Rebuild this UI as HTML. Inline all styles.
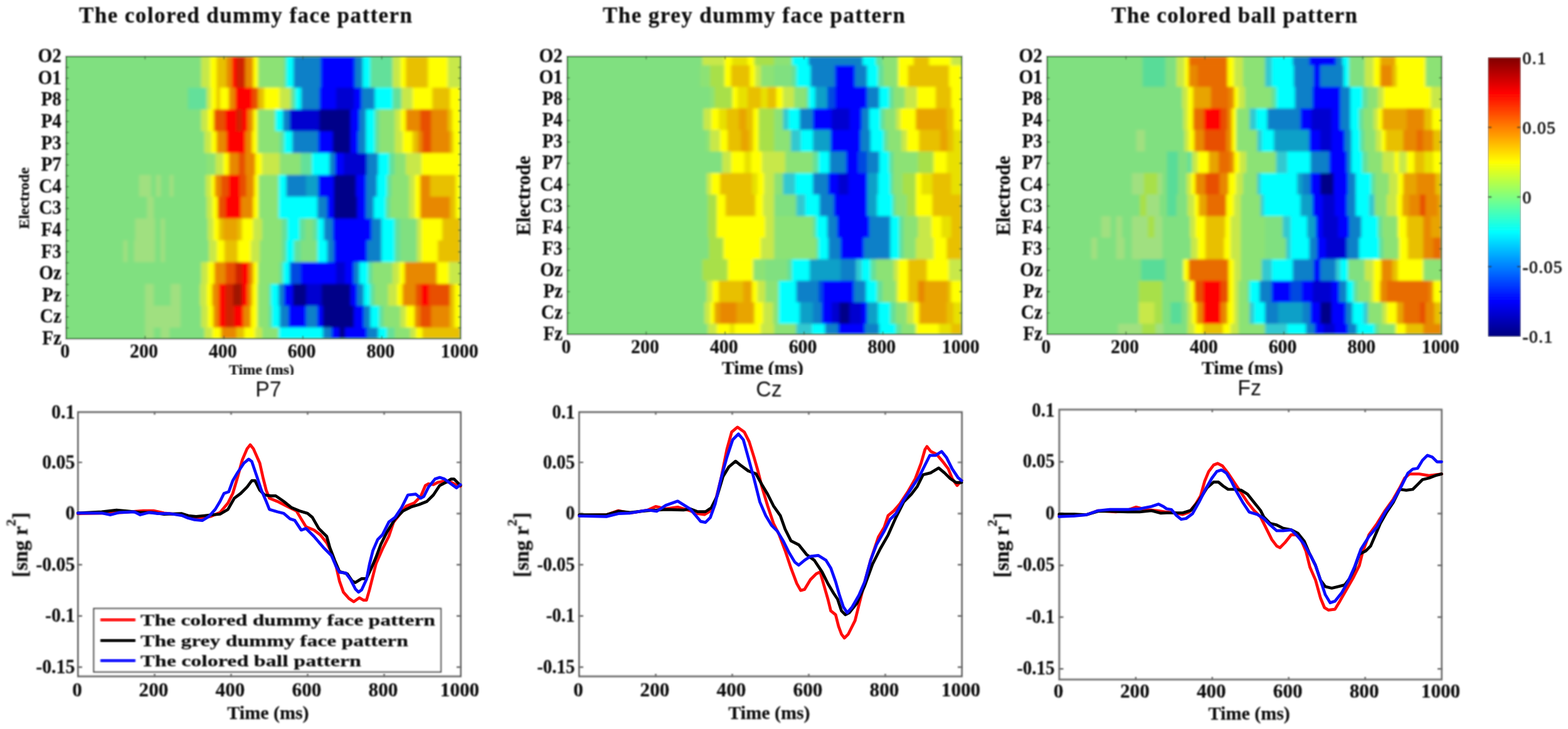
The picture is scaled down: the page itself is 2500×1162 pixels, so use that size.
<!DOCTYPE html>
<html lang="en"><head><meta charset="utf-8"><title>Discriminative patterns</title>
<style>html,body{margin:0;padding:0;background:#fff;}body{width:2500px;height:1162px;overflow:hidden;}svg{display:block;}text{font-family:"Liberation Serif", serif;font-weight:bold;fill:#111;stroke:#111;stroke-width:0.25px;stroke-linejoin:round;}.sans{font-family:"Liberation Sans", sans-serif;font-weight:normal;stroke:none;}.reg{font-weight:normal;stroke-width:0.85px;}</style></head><body>
<svg width="2500" height="1162" viewBox="0 0 2500 1162">
<defs>
<linearGradient id="jet" x1="0" y1="1" x2="0" y2="0">
<stop offset="0.0000" stop-color="rgb(0,0,128)"/>
<stop offset="0.0156" stop-color="rgb(0,0,143)"/>
<stop offset="0.0312" stop-color="rgb(0,0,159)"/>
<stop offset="0.0469" stop-color="rgb(0,0,175)"/>
<stop offset="0.0625" stop-color="rgb(0,0,191)"/>
<stop offset="0.0781" stop-color="rgb(0,0,207)"/>
<stop offset="0.0938" stop-color="rgb(0,0,223)"/>
<stop offset="0.1094" stop-color="rgb(0,0,239)"/>
<stop offset="0.1250" stop-color="rgb(0,0,255)"/>
<stop offset="0.1406" stop-color="rgb(0,16,255)"/>
<stop offset="0.1562" stop-color="rgb(0,32,255)"/>
<stop offset="0.1719" stop-color="rgb(0,48,255)"/>
<stop offset="0.1875" stop-color="rgb(0,64,255)"/>
<stop offset="0.2031" stop-color="rgb(0,80,255)"/>
<stop offset="0.2188" stop-color="rgb(0,96,255)"/>
<stop offset="0.2344" stop-color="rgb(0,112,255)"/>
<stop offset="0.2500" stop-color="rgb(0,128,255)"/>
<stop offset="0.2656" stop-color="rgb(0,143,255)"/>
<stop offset="0.2812" stop-color="rgb(0,159,255)"/>
<stop offset="0.2969" stop-color="rgb(0,175,255)"/>
<stop offset="0.3125" stop-color="rgb(0,191,255)"/>
<stop offset="0.3281" stop-color="rgb(0,207,255)"/>
<stop offset="0.3438" stop-color="rgb(0,223,255)"/>
<stop offset="0.3594" stop-color="rgb(0,239,255)"/>
<stop offset="0.3750" stop-color="rgb(0,255,255)"/>
<stop offset="0.3906" stop-color="rgb(16,255,239)"/>
<stop offset="0.4062" stop-color="rgb(32,255,223)"/>
<stop offset="0.4219" stop-color="rgb(48,255,207)"/>
<stop offset="0.4375" stop-color="rgb(64,255,191)"/>
<stop offset="0.4531" stop-color="rgb(80,255,175)"/>
<stop offset="0.4688" stop-color="rgb(96,255,159)"/>
<stop offset="0.4844" stop-color="rgb(112,255,143)"/>
<stop offset="0.5000" stop-color="rgb(128,255,128)"/>
<stop offset="0.5156" stop-color="rgb(143,255,112)"/>
<stop offset="0.5312" stop-color="rgb(159,255,96)"/>
<stop offset="0.5469" stop-color="rgb(175,255,80)"/>
<stop offset="0.5625" stop-color="rgb(191,255,64)"/>
<stop offset="0.5781" stop-color="rgb(207,255,48)"/>
<stop offset="0.5938" stop-color="rgb(223,255,32)"/>
<stop offset="0.6094" stop-color="rgb(239,255,16)"/>
<stop offset="0.6250" stop-color="rgb(255,255,0)"/>
<stop offset="0.6406" stop-color="rgb(255,239,0)"/>
<stop offset="0.6562" stop-color="rgb(255,223,0)"/>
<stop offset="0.6719" stop-color="rgb(255,207,0)"/>
<stop offset="0.6875" stop-color="rgb(255,191,0)"/>
<stop offset="0.7031" stop-color="rgb(255,175,0)"/>
<stop offset="0.7188" stop-color="rgb(255,159,0)"/>
<stop offset="0.7344" stop-color="rgb(255,143,0)"/>
<stop offset="0.7500" stop-color="rgb(255,128,0)"/>
<stop offset="0.7656" stop-color="rgb(255,112,0)"/>
<stop offset="0.7812" stop-color="rgb(255,96,0)"/>
<stop offset="0.7969" stop-color="rgb(255,80,0)"/>
<stop offset="0.8125" stop-color="rgb(255,64,0)"/>
<stop offset="0.8281" stop-color="rgb(255,48,0)"/>
<stop offset="0.8438" stop-color="rgb(255,32,0)"/>
<stop offset="0.8594" stop-color="rgb(255,16,0)"/>
<stop offset="0.8750" stop-color="rgb(255,0,0)"/>
<stop offset="0.8906" stop-color="rgb(239,0,0)"/>
<stop offset="0.9062" stop-color="rgb(223,0,0)"/>
<stop offset="0.9219" stop-color="rgb(207,0,0)"/>
<stop offset="0.9375" stop-color="rgb(191,0,0)"/>
<stop offset="0.9531" stop-color="rgb(175,0,0)"/>
<stop offset="0.9688" stop-color="rgb(159,0,0)"/>
<stop offset="0.9844" stop-color="rgb(143,0,0)"/>
<stop offset="1.0000" stop-color="rgb(128,0,0)"/>
</linearGradient>
<filter id="hb" x="-5%" y="-5%" width="110%" height="110%"><feGaussianBlur stdDeviation="2.8 2.2"/></filter>
<filter id="tb"><feGaussianBlur stdDeviation="0.9"/></filter>
<filter id="cb" x="-2%" y="-5%" width="104%" height="110%"><feGaussianBlur stdDeviation="0.7"/></filter>
</defs>
<rect width="2500" height="1162" fill="#fff"/>
<g>
<text x="126" y="36.2" font-size="35" textLength="531" lengthAdjust="spacing" filter="url(#tb)">The colored dummy face pattern</text>
<clipPath id="c_h1"><rect x="105.5" y="90" width="629" height="450"/></clipPath>
<rect x="105.5" y="90" width="629" height="450" fill="#80e080"/>
<g clip-path="url(#c_h1)"><g filter="url(#hb)">
<rect x="85.5" y="70" width="669" height="490" fill="#80e080"/>
<rect x="105.5" y="89.7" width="189.1" height="15.8" fill="#80e080"/><rect x="294.2" y="89.7" width="26.9" height="15.8" fill="#80e080"/><rect x="320.7" y="89.7" width="14.5" height="15.8" fill="#c8e848"/><rect x="334.8" y="89.7" width="11.0" height="15.8" fill="#ffff00"/><rect x="345.4" y="89.7" width="16.3" height="15.8" fill="#e8c000"/><rect x="361.2" y="89.7" width="9.2" height="15.8" fill="#e88800"/><rect x="370.0" y="89.7" width="7.5" height="15.8" fill="#ff0000"/><rect x="377.1" y="89.7" width="14.5" height="15.8" fill="#d02000"/><rect x="391.2" y="89.7" width="12.7" height="15.8" fill="#e88800"/><rect x="403.6" y="89.7" width="8.3" height="15.8" fill="#ffff00"/><rect x="411.5" y="89.7" width="41.9" height="15.8" fill="#8ce274"/><rect x="452.9" y="89.7" width="3.9" height="15.8" fill="#64e09a"/><rect x="456.5" y="89.7" width="11.9" height="15.8" fill="#00ffff"/><rect x="467.9" y="89.7" width="43.6" height="15.8" fill="#0880c8"/><rect x="511.2" y="89.7" width="55.1" height="15.8" fill="#0000ff"/><rect x="565.8" y="89.7" width="12.7" height="15.8" fill="#0880c8"/><rect x="578.2" y="89.7" width="12.7" height="15.8" fill="#00ffff"/><rect x="590.5" y="89.7" width="35.7" height="15.8" fill="#64e09a"/><rect x="625.8" y="89.7" width="12.7" height="15.8" fill="#c8e848"/><rect x="638.2" y="89.7" width="9.2" height="15.8" fill="#ffff00"/><rect x="647.0" y="89.7" width="35.7" height="15.8" fill="#e8c000"/><rect x="682.3" y="89.7" width="32.1" height="15.8" fill="#ffff00"/><rect x="714.0" y="89.7" width="20.9" height="15.8" fill="#c8e848"/><rect x="105.5" y="104.9" width="189.1" height="35.4" fill="#80e080"/><rect x="294.2" y="104.9" width="26.9" height="35.4" fill="#80e080"/><rect x="320.7" y="104.9" width="14.5" height="35.4" fill="#c8e848"/><rect x="334.8" y="104.9" width="11.0" height="35.4" fill="#ffff00"/><rect x="345.4" y="104.9" width="16.3" height="35.4" fill="#e8c000"/><rect x="361.2" y="104.9" width="9.2" height="35.4" fill="#e88800"/><rect x="370.0" y="104.9" width="7.5" height="35.4" fill="#ff0000"/><rect x="377.1" y="104.9" width="14.5" height="35.4" fill="#d02000"/><rect x="391.2" y="104.9" width="12.7" height="35.4" fill="#e88800"/><rect x="403.6" y="104.9" width="8.3" height="35.4" fill="#ffff00"/><rect x="411.5" y="104.9" width="41.9" height="35.4" fill="#8ce274"/><rect x="452.9" y="104.9" width="3.9" height="35.4" fill="#64e09a"/><rect x="456.5" y="104.9" width="11.9" height="35.4" fill="#00ffff"/><rect x="467.9" y="104.9" width="43.6" height="35.4" fill="#0880c8"/><rect x="511.2" y="104.9" width="55.1" height="35.4" fill="#0000ff"/><rect x="565.8" y="104.9" width="12.7" height="35.4" fill="#0880c8"/><rect x="578.2" y="104.9" width="12.7" height="35.4" fill="#00ffff"/><rect x="590.5" y="104.9" width="35.7" height="35.4" fill="#64e09a"/><rect x="625.8" y="104.9" width="12.7" height="35.4" fill="#c8e848"/><rect x="638.2" y="104.9" width="9.2" height="35.4" fill="#ffff00"/><rect x="647.0" y="104.9" width="35.7" height="35.4" fill="#e8c000"/><rect x="682.3" y="104.9" width="32.1" height="35.4" fill="#ffff00"/><rect x="714.0" y="104.9" width="20.9" height="35.4" fill="#c8e848"/><rect x="105.5" y="139.7" width="189.1" height="35.4" fill="#80e080"/><rect x="294.2" y="139.7" width="5.7" height="35.4" fill="#80e080"/><rect x="299.5" y="139.7" width="30.4" height="35.4" fill="#64e09a"/><rect x="329.5" y="139.7" width="7.5" height="35.4" fill="#c8e848"/><rect x="336.5" y="139.7" width="9.2" height="35.4" fill="#ffff00"/><rect x="345.4" y="139.7" width="5.7" height="35.4" fill="#e8c000"/><rect x="350.6" y="139.7" width="14.5" height="35.4" fill="#ffff00"/><rect x="364.8" y="139.7" width="11.0" height="35.4" fill="#e88800"/><rect x="375.3" y="139.7" width="26.9" height="35.4" fill="#ff0000"/><rect x="401.8" y="139.7" width="10.1" height="35.4" fill="#e85000"/><rect x="411.5" y="139.7" width="10.1" height="35.4" fill="#e8c000"/><rect x="421.2" y="139.7" width="25.1" height="35.4" fill="#ffff00"/><rect x="445.9" y="139.7" width="18.0" height="35.4" fill="#c8e848"/><rect x="463.5" y="139.7" width="7.5" height="35.4" fill="#64e09a"/><rect x="470.6" y="139.7" width="10.1" height="35.4" fill="#00ffff"/><rect x="480.3" y="139.7" width="29.5" height="35.4" fill="#0880c8"/><rect x="509.4" y="139.7" width="26.9" height="35.4" fill="#0000ff"/><rect x="535.9" y="139.7" width="28.6" height="35.4" fill="#0000d0"/><rect x="564.1" y="139.7" width="12.7" height="35.4" fill="#0000ff"/><rect x="576.4" y="139.7" width="21.6" height="35.4" fill="#0880c8"/><rect x="597.6" y="139.7" width="28.6" height="35.4" fill="#00ffff"/><rect x="625.8" y="139.7" width="14.5" height="35.4" fill="#64e09a"/><rect x="639.9" y="139.7" width="18.0" height="35.4" fill="#c8e848"/><rect x="657.6" y="139.7" width="32.1" height="35.4" fill="#ffff00"/><rect x="689.3" y="139.7" width="28.6" height="35.4" fill="#e8c000"/><rect x="717.5" y="139.7" width="17.4" height="35.4" fill="#ffff00"/><rect x="105.5" y="174.4" width="189.1" height="35.4" fill="#80e080"/><rect x="294.2" y="174.4" width="26.9" height="35.4" fill="#80e080"/><rect x="320.7" y="174.4" width="11.0" height="35.4" fill="#c8e848"/><rect x="331.2" y="174.4" width="10.1" height="35.4" fill="#ffff00"/><rect x="340.9" y="174.4" width="18.9" height="35.4" fill="#e85000"/><rect x="359.5" y="174.4" width="18.0" height="35.4" fill="#ff0000"/><rect x="377.1" y="174.4" width="9.2" height="35.4" fill="#d02000"/><rect x="385.9" y="174.4" width="9.2" height="35.4" fill="#ff0000"/><rect x="394.7" y="174.4" width="9.2" height="35.4" fill="#e88800"/><rect x="403.6" y="174.4" width="7.5" height="35.4" fill="#ffff00"/><rect x="410.6" y="174.4" width="28.6" height="35.4" fill="#8ce274"/><rect x="438.8" y="174.4" width="12.7" height="35.4" fill="#00ffff"/><rect x="451.2" y="174.4" width="11.0" height="35.4" fill="#0880c8"/><rect x="461.8" y="174.4" width="48.0" height="35.4" fill="#0000d0"/><rect x="509.4" y="174.4" width="49.8" height="35.4" fill="#000088"/><rect x="558.8" y="174.4" width="14.5" height="35.4" fill="#0000ff"/><rect x="572.9" y="174.4" width="11.0" height="35.4" fill="#0880c8"/><rect x="583.5" y="174.4" width="14.5" height="35.4" fill="#00ffff"/><rect x="597.6" y="174.4" width="7.5" height="35.4" fill="#64e09a"/><rect x="604.6" y="174.4" width="25.1" height="35.4" fill="#8ce274"/><rect x="629.3" y="174.4" width="9.2" height="35.4" fill="#c8e848"/><rect x="638.2" y="174.4" width="9.2" height="35.4" fill="#ffff00"/><rect x="647.0" y="174.4" width="23.3" height="35.4" fill="#e88800"/><rect x="669.9" y="174.4" width="18.0" height="35.4" fill="#e85000"/><rect x="687.5" y="174.4" width="26.9" height="35.4" fill="#e88800"/><rect x="714.0" y="174.4" width="7.5" height="35.4" fill="#e8c000"/><rect x="721.1" y="174.4" width="13.8" height="35.4" fill="#ffff00"/><rect x="105.5" y="209.2" width="189.1" height="35.4" fill="#80e080"/><rect x="294.2" y="209.2" width="32.1" height="35.4" fill="#80e080"/><rect x="325.9" y="209.2" width="11.0" height="35.4" fill="#c8e848"/><rect x="336.5" y="209.2" width="9.2" height="35.4" fill="#ffff00"/><rect x="345.4" y="209.2" width="16.3" height="35.4" fill="#e88800"/><rect x="361.2" y="209.2" width="30.4" height="35.4" fill="#ff0000"/><rect x="391.2" y="209.2" width="11.0" height="35.4" fill="#e88800"/><rect x="401.8" y="209.2" width="9.2" height="35.4" fill="#ffff00"/><rect x="410.6" y="209.2" width="35.7" height="35.4" fill="#8ce274"/><rect x="445.9" y="209.2" width="7.5" height="35.4" fill="#64e09a"/><rect x="452.9" y="209.2" width="13.6" height="35.4" fill="#00ffff"/><rect x="466.2" y="209.2" width="41.9" height="35.4" fill="#0880c8"/><rect x="507.6" y="209.2" width="23.3" height="35.4" fill="#0000ff"/><rect x="530.6" y="209.2" width="28.6" height="35.4" fill="#000088"/><rect x="558.8" y="209.2" width="12.7" height="35.4" fill="#0000ff"/><rect x="571.1" y="209.2" width="12.7" height="35.4" fill="#0880c8"/><rect x="583.5" y="209.2" width="14.5" height="35.4" fill="#00ffff"/><rect x="597.6" y="209.2" width="7.5" height="35.4" fill="#64e09a"/><rect x="604.6" y="209.2" width="25.1" height="35.4" fill="#8ce274"/><rect x="629.3" y="209.2" width="12.7" height="35.4" fill="#c8e848"/><rect x="641.7" y="209.2" width="16.3" height="35.4" fill="#ffff00"/><rect x="657.6" y="209.2" width="9.2" height="35.4" fill="#e8c000"/><rect x="666.4" y="209.2" width="7.5" height="35.4" fill="#e88800"/><rect x="673.4" y="209.2" width="14.5" height="35.4" fill="#e85000"/><rect x="687.5" y="209.2" width="30.4" height="35.4" fill="#e88800"/><rect x="717.5" y="209.2" width="5.7" height="35.4" fill="#e8c000"/><rect x="722.8" y="209.2" width="12.1" height="35.4" fill="#ffff00"/><rect x="105.5" y="244.0" width="189.1" height="35.4" fill="#80e080"/><rect x="294.2" y="244.0" width="35.7" height="35.4" fill="#80e080"/><rect x="329.5" y="244.0" width="14.5" height="35.4" fill="#8ce274"/><rect x="343.6" y="244.0" width="12.7" height="35.4" fill="#c8e848"/><rect x="355.9" y="244.0" width="9.2" height="35.4" fill="#ffff00"/><rect x="364.8" y="244.0" width="16.3" height="35.4" fill="#e88800"/><rect x="380.6" y="244.0" width="11.0" height="35.4" fill="#e85000"/><rect x="391.2" y="244.0" width="16.3" height="35.4" fill="#e88800"/><rect x="407.1" y="244.0" width="11.0" height="35.4" fill="#ffff00"/><rect x="417.7" y="244.0" width="28.6" height="35.4" fill="#c8e848"/><rect x="445.9" y="244.0" width="33.9" height="35.4" fill="#8ce274"/><rect x="479.4" y="244.0" width="18.0" height="35.4" fill="#64e09a"/><rect x="497.0" y="244.0" width="28.6" height="35.4" fill="#00ffff"/><rect x="525.3" y="244.0" width="9.2" height="35.4" fill="#0880c8"/><rect x="534.1" y="244.0" width="14.5" height="35.4" fill="#0000ff"/><rect x="548.2" y="244.0" width="37.4" height="35.4" fill="#0000d0"/><rect x="585.2" y="244.0" width="18.0" height="35.4" fill="#0880c8"/><rect x="602.9" y="244.0" width="18.0" height="35.4" fill="#00ffff"/><rect x="620.5" y="244.0" width="9.2" height="35.4" fill="#64e09a"/><rect x="629.3" y="244.0" width="18.0" height="35.4" fill="#8ce274"/><rect x="647.0" y="244.0" width="25.1" height="35.4" fill="#c8e848"/><rect x="671.7" y="244.0" width="46.3" height="35.4" fill="#ffff00"/><rect x="717.5" y="244.0" width="17.4" height="35.4" fill="#ffff00"/><rect x="105.5" y="278.8" width="116.8" height="35.4" fill="#80e080"/><rect x="221.9" y="278.8" width="19.3" height="35.4" fill="#a0e080"/><rect x="240.7" y="278.8" width="8.6" height="35.4" fill="#80e080"/><rect x="248.9" y="278.8" width="7.9" height="35.4" fill="#a0e080"/><rect x="256.5" y="278.8" width="14.2" height="35.4" fill="#80e080"/><rect x="270.3" y="278.8" width="6.7" height="35.4" fill="#a0e080"/><rect x="276.6" y="278.8" width="18.0" height="35.4" fill="#80e080"/><rect x="294.2" y="278.8" width="33.9" height="35.4" fill="#80e080"/><rect x="327.7" y="278.8" width="9.2" height="35.4" fill="#c8e848"/><rect x="336.5" y="278.8" width="6.6" height="35.4" fill="#ffff00"/><rect x="342.7" y="278.8" width="10.1" height="35.4" fill="#e88800"/><rect x="352.4" y="278.8" width="12.7" height="35.4" fill="#e85000"/><rect x="364.8" y="278.8" width="18.0" height="35.4" fill="#ff0000"/><rect x="382.4" y="278.8" width="11.0" height="35.4" fill="#e85000"/><rect x="393.0" y="278.8" width="12.7" height="35.4" fill="#e88800"/><rect x="405.3" y="278.8" width="7.5" height="35.4" fill="#ffff00"/><rect x="412.4" y="278.8" width="32.1" height="35.4" fill="#8ce274"/><rect x="444.1" y="278.8" width="12.7" height="35.4" fill="#00ffff"/><rect x="456.5" y="278.8" width="32.1" height="35.4" fill="#0880c8"/><rect x="488.2" y="278.8" width="19.8" height="35.4" fill="#08a0c8"/><rect x="507.6" y="278.8" width="25.1" height="35.4" fill="#0000ff"/><rect x="532.3" y="278.8" width="35.7" height="35.4" fill="#000088"/><rect x="567.6" y="278.8" width="16.3" height="35.4" fill="#0000ff"/><rect x="583.5" y="278.8" width="18.0" height="35.4" fill="#0880c8"/><rect x="601.1" y="278.8" width="16.3" height="35.4" fill="#00ffff"/><rect x="617.0" y="278.8" width="7.5" height="35.4" fill="#64e09a"/><rect x="624.0" y="278.8" width="28.6" height="35.4" fill="#8ce274"/><rect x="652.3" y="278.8" width="9.2" height="35.4" fill="#c8e848"/><rect x="661.1" y="278.8" width="9.2" height="35.4" fill="#ffff00"/><rect x="669.9" y="278.8" width="16.3" height="35.4" fill="#e88800"/><rect x="685.8" y="278.8" width="41.0" height="35.4" fill="#e8c000"/><rect x="726.4" y="278.8" width="8.5" height="35.4" fill="#ffff00"/><rect x="105.5" y="313.5" width="129.3" height="35.4" fill="#80e080"/><rect x="234.4" y="313.5" width="11.1" height="35.4" fill="#a0e080"/><rect x="245.1" y="313.5" width="49.5" height="35.4" fill="#80e080"/><rect x="294.2" y="313.5" width="35.7" height="35.4" fill="#80e080"/><rect x="329.5" y="313.5" width="9.2" height="35.4" fill="#c8e848"/><rect x="338.3" y="313.5" width="9.2" height="35.4" fill="#ffff00"/><rect x="347.1" y="313.5" width="12.7" height="35.4" fill="#e85000"/><rect x="359.5" y="313.5" width="25.1" height="35.4" fill="#ff0000"/><rect x="384.2" y="313.5" width="19.8" height="35.4" fill="#e88800"/><rect x="403.6" y="313.5" width="9.2" height="35.4" fill="#ffff00"/><rect x="412.4" y="313.5" width="32.1" height="35.4" fill="#8ce274"/><rect x="444.1" y="313.5" width="62.1" height="35.4" fill="#00ffff"/><rect x="505.9" y="313.5" width="16.3" height="35.4" fill="#0880c8"/><rect x="521.7" y="313.5" width="11.0" height="35.4" fill="#0000ff"/><rect x="532.3" y="313.5" width="37.4" height="35.4" fill="#000088"/><rect x="569.4" y="313.5" width="14.5" height="35.4" fill="#0000ff"/><rect x="583.5" y="313.5" width="12.7" height="35.4" fill="#0880c8"/><rect x="595.8" y="313.5" width="19.8" height="35.4" fill="#00ffff"/><rect x="615.2" y="313.5" width="7.5" height="35.4" fill="#64e09a"/><rect x="622.3" y="313.5" width="30.4" height="35.4" fill="#8ce274"/><rect x="652.3" y="313.5" width="9.2" height="35.4" fill="#c8e848"/><rect x="661.1" y="313.5" width="9.2" height="35.4" fill="#ffff00"/><rect x="669.9" y="313.5" width="48.0" height="35.4" fill="#e88800"/><rect x="717.5" y="313.5" width="9.2" height="35.4" fill="#e8c000"/><rect x="726.4" y="313.5" width="8.5" height="35.4" fill="#ffff00"/><rect x="105.5" y="348.3" width="110.5" height="35.4" fill="#80e080"/><rect x="215.6" y="348.3" width="31.9" height="35.4" fill="#a0e080"/><rect x="247.0" y="348.3" width="9.8" height="35.4" fill="#80e080"/><rect x="256.5" y="348.3" width="6.7" height="35.4" fill="#a0e080"/><rect x="262.8" y="348.3" width="31.8" height="35.4" fill="#80e080"/><rect x="294.2" y="348.3" width="37.4" height="35.4" fill="#80e080"/><rect x="331.2" y="348.3" width="9.2" height="35.4" fill="#c8e848"/><rect x="340.1" y="348.3" width="9.2" height="35.4" fill="#ffff00"/><rect x="348.9" y="348.3" width="7.5" height="35.4" fill="#e8c000"/><rect x="355.9" y="348.3" width="23.3" height="35.4" fill="#e8a400"/><rect x="378.9" y="348.3" width="7.5" height="35.4" fill="#e8c000"/><rect x="385.9" y="348.3" width="18.0" height="35.4" fill="#ffff00"/><rect x="403.6" y="348.3" width="14.5" height="35.4" fill="#c8e848"/><rect x="417.7" y="348.3" width="32.1" height="35.4" fill="#8ce274"/><rect x="449.4" y="348.3" width="9.2" height="35.4" fill="#64e09a"/><rect x="458.2" y="348.3" width="19.8" height="35.4" fill="#00ffff"/><rect x="477.6" y="348.3" width="9.2" height="35.4" fill="#64e09a"/><rect x="486.5" y="348.3" width="12.7" height="35.4" fill="#80e080"/><rect x="498.8" y="348.3" width="7.5" height="35.4" fill="#64e09a"/><rect x="505.9" y="348.3" width="11.0" height="35.4" fill="#00ffff"/><rect x="516.4" y="348.3" width="14.5" height="35.4" fill="#0880c8"/><rect x="530.6" y="348.3" width="62.1" height="35.4" fill="#0000ff"/><rect x="592.3" y="348.3" width="16.3" height="35.4" fill="#0880c8"/><rect x="608.2" y="348.3" width="21.6" height="35.4" fill="#00ffff"/><rect x="629.3" y="348.3" width="9.2" height="35.4" fill="#64e09a"/><rect x="638.2" y="348.3" width="26.9" height="35.4" fill="#80e080"/><rect x="664.6" y="348.3" width="7.5" height="35.4" fill="#c8e848"/><rect x="671.7" y="348.3" width="33.9" height="35.4" fill="#ffff00"/><rect x="705.2" y="348.3" width="29.7" height="35.4" fill="#e8c000"/><rect x="105.5" y="383.1" width="91.6" height="35.4" fill="#80e080"/><rect x="196.7" y="383.1" width="6.7" height="35.4" fill="#a0e080"/><rect x="203.0" y="383.1" width="11.1" height="35.4" fill="#80e080"/><rect x="213.7" y="383.1" width="33.7" height="35.4" fill="#a0e080"/><rect x="247.0" y="383.1" width="9.8" height="35.4" fill="#80e080"/><rect x="256.5" y="383.1" width="6.7" height="35.4" fill="#a0e080"/><rect x="262.8" y="383.1" width="31.8" height="35.4" fill="#80e080"/><rect x="294.2" y="383.1" width="39.2" height="35.4" fill="#80e080"/><rect x="333.0" y="383.1" width="12.7" height="35.4" fill="#c8e848"/><rect x="345.4" y="383.1" width="12.7" height="35.4" fill="#ffff00"/><rect x="357.7" y="383.1" width="21.6" height="35.4" fill="#e8c000"/><rect x="378.9" y="383.1" width="21.6" height="35.4" fill="#ffff00"/><rect x="400.0" y="383.1" width="14.5" height="35.4" fill="#c8e848"/><rect x="414.1" y="383.1" width="35.7" height="35.4" fill="#8ce274"/><rect x="449.4" y="383.1" width="7.5" height="35.4" fill="#64e09a"/><rect x="456.5" y="383.1" width="12.7" height="35.4" fill="#00ffff"/><rect x="468.8" y="383.1" width="11.0" height="35.4" fill="#64e09a"/><rect x="479.4" y="383.1" width="26.9" height="35.4" fill="#80e080"/><rect x="505.9" y="383.1" width="16.3" height="35.4" fill="#00ffff"/><rect x="521.7" y="383.1" width="11.0" height="35.4" fill="#0880c8"/><rect x="532.3" y="383.1" width="53.3" height="35.4" fill="#0000ff"/><rect x="585.2" y="383.1" width="23.3" height="35.4" fill="#0880c8"/><rect x="608.2" y="383.1" width="21.6" height="35.4" fill="#00ffff"/><rect x="629.3" y="383.1" width="9.2" height="35.4" fill="#64e09a"/><rect x="638.2" y="383.1" width="26.9" height="35.4" fill="#80e080"/><rect x="664.6" y="383.1" width="7.5" height="35.4" fill="#c8e848"/><rect x="671.7" y="383.1" width="26.9" height="35.4" fill="#ffff00"/><rect x="698.1" y="383.1" width="36.8" height="35.4" fill="#e8c000"/><rect x="105.5" y="417.8" width="189.1" height="35.4" fill="#80e080"/><rect x="294.2" y="417.8" width="26.9" height="35.4" fill="#80e080"/><rect x="320.7" y="417.8" width="11.0" height="35.4" fill="#c8e848"/><rect x="331.2" y="417.8" width="11.0" height="35.4" fill="#ffff00"/><rect x="341.8" y="417.8" width="18.0" height="35.4" fill="#e88800"/><rect x="359.5" y="417.8" width="16.3" height="35.4" fill="#e85000"/><rect x="375.3" y="417.8" width="11.0" height="35.4" fill="#d02000"/><rect x="385.9" y="417.8" width="11.0" height="35.4" fill="#ff0000"/><rect x="396.5" y="417.8" width="7.5" height="35.4" fill="#e88800"/><rect x="403.6" y="417.8" width="8.3" height="35.4" fill="#ffff00"/><rect x="411.5" y="417.8" width="34.8" height="35.4" fill="#8ce274"/><rect x="445.9" y="417.8" width="5.7" height="35.4" fill="#64e09a"/><rect x="451.2" y="417.8" width="11.0" height="35.4" fill="#00ffff"/><rect x="461.8" y="417.8" width="18.0" height="35.4" fill="#0448e0"/><rect x="479.4" y="417.8" width="56.8" height="35.4" fill="#0000ff"/><rect x="535.9" y="417.8" width="14.5" height="35.4" fill="#0000d0"/><rect x="550.0" y="417.8" width="14.5" height="35.4" fill="#0000ff"/><rect x="564.1" y="417.8" width="9.2" height="35.4" fill="#0880c8"/><rect x="572.9" y="417.8" width="14.5" height="35.4" fill="#00ffff"/><rect x="587.0" y="417.8" width="7.5" height="35.4" fill="#64e09a"/><rect x="594.1" y="417.8" width="32.1" height="35.4" fill="#8ce274"/><rect x="625.8" y="417.8" width="11.0" height="35.4" fill="#c8e848"/><rect x="636.4" y="417.8" width="9.2" height="35.4" fill="#ffff00"/><rect x="645.2" y="417.8" width="51.6" height="35.4" fill="#e88800"/><rect x="696.4" y="417.8" width="19.8" height="35.4" fill="#ffff00"/><rect x="715.8" y="417.8" width="19.1" height="35.4" fill="#c8e848"/><rect x="105.5" y="452.6" width="126.2" height="35.4" fill="#80e080"/><rect x="231.3" y="452.6" width="14.2" height="35.4" fill="#a0e080"/><rect x="245.1" y="452.6" width="27.4" height="35.4" fill="#80e080"/><rect x="272.2" y="452.6" width="16.1" height="35.4" fill="#a0e080"/><rect x="287.9" y="452.6" width="6.7" height="35.4" fill="#80e080"/><rect x="294.2" y="452.6" width="25.1" height="35.4" fill="#80e080"/><rect x="318.9" y="452.6" width="11.0" height="35.4" fill="#c8e848"/><rect x="329.5" y="452.6" width="9.2" height="35.4" fill="#ffff00"/><rect x="338.3" y="452.6" width="11.0" height="35.4" fill="#e88800"/><rect x="348.9" y="452.6" width="11.0" height="35.4" fill="#ff0000"/><rect x="359.5" y="452.6" width="12.7" height="35.4" fill="#d02000"/><rect x="371.8" y="452.6" width="14.5" height="35.4" fill="#a01800"/><rect x="385.9" y="452.6" width="9.2" height="35.4" fill="#ff0000"/><rect x="394.7" y="452.6" width="7.5" height="35.4" fill="#e88800"/><rect x="401.8" y="452.6" width="9.2" height="35.4" fill="#ffff00"/><rect x="410.6" y="452.6" width="18.0" height="35.4" fill="#8ce274"/><rect x="428.3" y="452.6" width="3.9" height="35.4" fill="#64e09a"/><rect x="431.8" y="452.6" width="12.7" height="35.4" fill="#00ffff"/><rect x="444.1" y="452.6" width="9.2" height="35.4" fill="#0880c8"/><rect x="452.9" y="452.6" width="14.5" height="35.4" fill="#0000ff"/><rect x="467.1" y="452.6" width="21.6" height="35.4" fill="#000088"/><rect x="488.2" y="452.6" width="25.1" height="35.4" fill="#0000d0"/><rect x="512.9" y="452.6" width="46.3" height="35.4" fill="#000088"/><rect x="558.8" y="452.6" width="11.0" height="35.4" fill="#0000ff"/><rect x="569.4" y="452.6" width="11.0" height="35.4" fill="#0880c8"/><rect x="579.9" y="452.6" width="11.0" height="35.4" fill="#00ffff"/><rect x="590.5" y="452.6" width="7.5" height="35.4" fill="#64e09a"/><rect x="597.6" y="452.6" width="21.6" height="35.4" fill="#8ce274"/><rect x="618.8" y="452.6" width="14.5" height="35.4" fill="#c8e848"/><rect x="632.9" y="452.6" width="9.2" height="35.4" fill="#ffff00"/><rect x="641.7" y="452.6" width="21.6" height="35.4" fill="#e88800"/><rect x="662.9" y="452.6" width="9.2" height="35.4" fill="#e85000"/><rect x="671.7" y="452.6" width="12.7" height="35.4" fill="#ff0000"/><rect x="684.0" y="452.6" width="33.9" height="35.4" fill="#e85000"/><rect x="717.5" y="452.6" width="7.5" height="35.4" fill="#e8c000"/><rect x="724.6" y="452.6" width="10.3" height="35.4" fill="#ffff00"/><rect x="105.5" y="487.4" width="126.2" height="35.4" fill="#80e080"/><rect x="231.3" y="487.4" width="57.0" height="35.4" fill="#a0e080"/><rect x="287.9" y="487.4" width="6.7" height="35.4" fill="#80e080"/><rect x="294.2" y="487.4" width="26.9" height="35.4" fill="#80e080"/><rect x="320.7" y="487.4" width="11.0" height="35.4" fill="#c8e848"/><rect x="331.2" y="487.4" width="9.2" height="35.4" fill="#ffff00"/><rect x="340.1" y="487.4" width="9.2" height="35.4" fill="#e88800"/><rect x="348.9" y="487.4" width="11.0" height="35.4" fill="#ff0000"/><rect x="359.5" y="487.4" width="14.5" height="35.4" fill="#d02000"/><rect x="373.6" y="487.4" width="14.5" height="35.4" fill="#ff0000"/><rect x="387.7" y="487.4" width="12.7" height="35.4" fill="#e88800"/><rect x="400.0" y="487.4" width="11.0" height="35.4" fill="#ffff00"/><rect x="410.6" y="487.4" width="18.0" height="35.4" fill="#8ce274"/><rect x="428.3" y="487.4" width="5.7" height="35.4" fill="#64e09a"/><rect x="433.5" y="487.4" width="12.7" height="35.4" fill="#00ffff"/><rect x="445.9" y="487.4" width="14.5" height="35.4" fill="#0880c8"/><rect x="460.0" y="487.4" width="28.6" height="35.4" fill="#0000ff"/><rect x="488.2" y="487.4" width="18.0" height="35.4" fill="#0880c8"/><rect x="505.9" y="487.4" width="9.2" height="35.4" fill="#0000ff"/><rect x="514.7" y="487.4" width="49.8" height="35.4" fill="#000088"/><rect x="564.1" y="487.4" width="16.3" height="35.4" fill="#0000ff"/><rect x="579.9" y="487.4" width="11.0" height="35.4" fill="#0880c8"/><rect x="590.5" y="487.4" width="14.5" height="35.4" fill="#00ffff"/><rect x="604.6" y="487.4" width="7.5" height="35.4" fill="#64e09a"/><rect x="611.7" y="487.4" width="26.9" height="35.4" fill="#8ce274"/><rect x="638.2" y="487.4" width="9.2" height="35.4" fill="#c8e848"/><rect x="647.0" y="487.4" width="14.5" height="35.4" fill="#ffff00"/><rect x="661.1" y="487.4" width="9.2" height="35.4" fill="#e88800"/><rect x="669.9" y="487.4" width="18.0" height="35.4" fill="#e85000"/><rect x="687.5" y="487.4" width="30.4" height="35.4" fill="#e88800"/><rect x="717.5" y="487.4" width="7.5" height="35.4" fill="#e8c000"/><rect x="724.6" y="487.4" width="10.3" height="35.4" fill="#ffff00"/><rect x="105.5" y="522.1" width="126.2" height="18.2" fill="#80e080"/><rect x="231.3" y="522.1" width="14.2" height="18.2" fill="#a0e080"/><rect x="245.1" y="522.1" width="11.7" height="18.2" fill="#80e080"/><rect x="256.5" y="522.1" width="14.2" height="18.2" fill="#a0e080"/><rect x="270.3" y="522.1" width="24.3" height="18.2" fill="#80e080"/><rect x="294.2" y="522.1" width="32.1" height="18.2" fill="#80e080"/><rect x="325.9" y="522.1" width="12.7" height="18.2" fill="#c8e848"/><rect x="338.3" y="522.1" width="14.5" height="18.2" fill="#ffff00"/><rect x="352.4" y="522.1" width="25.1" height="18.2" fill="#e88800"/><rect x="377.1" y="522.1" width="12.7" height="18.2" fill="#e8c000"/><rect x="389.4" y="522.1" width="18.0" height="18.2" fill="#ffff00"/><rect x="407.1" y="522.1" width="11.0" height="18.2" fill="#c8e848"/><rect x="417.7" y="522.1" width="26.9" height="18.2" fill="#8ce274"/><rect x="444.1" y="522.1" width="71.0" height="18.2" fill="#00ffff"/><rect x="514.7" y="522.1" width="14.5" height="18.2" fill="#0880c8"/><rect x="528.8" y="522.1" width="12.7" height="18.2" fill="#0000ff"/><rect x="541.1" y="522.1" width="9.2" height="18.2" fill="#000088"/><rect x="550.0" y="522.1" width="35.7" height="18.2" fill="#0000ff"/><rect x="585.2" y="522.1" width="18.0" height="18.2" fill="#0880c8"/><rect x="602.9" y="522.1" width="14.5" height="18.2" fill="#00ffff"/><rect x="617.0" y="522.1" width="12.7" height="18.2" fill="#64e09a"/><rect x="629.3" y="522.1" width="25.1" height="18.2" fill="#8ce274"/><rect x="654.0" y="522.1" width="9.2" height="18.2" fill="#c8e848"/><rect x="662.9" y="522.1" width="11.0" height="18.2" fill="#ffff00"/><rect x="673.4" y="522.1" width="61.5" height="18.2" fill="#e8c000"/>
</g></g>
<rect x="105.5" y="90" width="629" height="450" fill="none" stroke="#2c3a2c" stroke-width="2.2" opacity="0.62" filter="url(#tb)"/>
<path d="M231.3 90.0v4.5M231.3 540.0v-4.5M357.1 90.0v4.5M357.1 540.0v-4.5M482.9 90.0v4.5M482.9 540.0v-4.5M608.7 90.0v4.5M608.7 540.0v-4.5M105.5 107.3h4M734.5 107.3h-4M105.5 124.6h4M734.5 124.6h-4M105.5 141.9h4M734.5 141.9h-4M105.5 159.2h4M734.5 159.2h-4M105.5 176.5h4M734.5 176.5h-4M105.5 193.8h4M734.5 193.8h-4M105.5 211.2h4M734.5 211.2h-4M105.5 228.5h4M734.5 228.5h-4M105.5 245.8h4M734.5 245.8h-4M105.5 263.1h4M734.5 263.1h-4M105.5 280.4h4M734.5 280.4h-4M105.5 297.7h4M734.5 297.7h-4M105.5 315.0h4M734.5 315.0h-4M105.5 332.3h4M734.5 332.3h-4M105.5 349.6h4M734.5 349.6h-4M105.5 366.9h4M734.5 366.9h-4M105.5 384.2h4M734.5 384.2h-4M105.5 401.5h4M734.5 401.5h-4M105.5 418.8h4M734.5 418.8h-4M105.5 436.2h4M734.5 436.2h-4M105.5 453.5h4M734.5 453.5h-4M105.5 470.8h4M734.5 470.8h-4M105.5 488.1h4M734.5 488.1h-4M105.5 505.4h4M734.5 505.4h-4M105.5 522.7h4M734.5 522.7h-4" stroke="#2f4f2f" stroke-width="1.8" fill="none" opacity="0.6" filter="url(#tb)"/>
<g font-size="30.5" text-anchor="end" filter="url(#tb)">
<text transform="translate(98 99.0) scale(0.96 1)">O2</text>
<text transform="translate(98 133.6) scale(0.96 1)">O1</text>
<text transform="translate(98 168.2) scale(0.96 1)">P8</text>
<text transform="translate(98 202.8) scale(0.96 1)">P4</text>
<text transform="translate(98 237.5) scale(0.96 1)">P3</text>
<text transform="translate(98 272.1) scale(0.96 1)">P7</text>
<text transform="translate(98 306.7) scale(0.96 1)">C4</text>
<text transform="translate(98 341.3) scale(0.96 1)">C3</text>
<text transform="translate(98 375.9) scale(0.96 1)">F4</text>
<text transform="translate(98 410.5) scale(0.96 1)">F3</text>
<text transform="translate(98 445.2) scale(0.96 1)">Oz</text>
<text transform="translate(98 479.8) scale(0.96 1)">Pz</text>
<text transform="translate(98 514.4) scale(0.96 1)">Cz</text>
<text transform="translate(98 549.0) scale(0.96 1)">Fz</text>
</g>
<g font-size="31" text-anchor="middle" filter="url(#tb)">
<text transform="translate(103.7 570.4) scale(0.965 1)">0</text>
<text transform="translate(229.5 570.4) scale(0.965 1)">200</text>
<text transform="translate(355.3 570.4) scale(0.965 1)">400</text>
<text transform="translate(481.1 570.4) scale(0.965 1)">600</text>
<text transform="translate(606.9 570.4) scale(0.965 1)">800</text>
<text transform="translate(732.7 570.4) scale(0.965 1)">1000</text>
</g>
<clipPath id="cx_h1"><rect x="217" y="500" width="400" height="97.5"/></clipPath>
<g clip-path="url(#cx_h1)"><text x="417" y="596.5" font-size="24" text-anchor="middle" filter="url(#tb)">Time (ms)</text></g>
<text transform="translate(46 316) rotate(-90)" font-size="24" text-anchor="middle" filter="url(#tb)">Electrode</text>
</g>
<g>
<text x="961" y="36.2" font-size="35" textLength="482" lengthAdjust="spacing" filter="url(#tb)">The grey dummy face pattern</text>
<clipPath id="c_h2"><rect x="904.5" y="90" width="629" height="443"/></clipPath>
<rect x="904.5" y="90" width="629" height="443" fill="#80e080"/>
<g clip-path="url(#c_h2)"><g filter="url(#hb)">
<rect x="884.5" y="70" width="669" height="483" fill="#80e080"/>
<rect x="904.5" y="89.7" width="189.1" height="15.0" fill="#80e080"/><rect x="1093.2" y="89.7" width="26.9" height="15.0" fill="#80e080"/><rect x="1119.7" y="89.7" width="35.7" height="15.0" fill="#c8e848"/><rect x="1154.9" y="89.7" width="12.7" height="15.0" fill="#ffff00"/><rect x="1167.3" y="89.7" width="25.1" height="15.0" fill="#e8e000"/><rect x="1192.0" y="89.7" width="11.0" height="15.0" fill="#ffff00"/><rect x="1202.6" y="89.7" width="32.1" height="15.0" fill="#a8e048"/><rect x="1234.3" y="89.7" width="28.6" height="15.0" fill="#8ce274"/><rect x="1262.5" y="89.7" width="26.9" height="15.0" fill="#00ffff"/><rect x="1289.0" y="89.7" width="86.8" height="15.0" fill="#0880c8"/><rect x="1375.4" y="89.7" width="21.6" height="15.0" fill="#00ffff"/><rect x="1396.6" y="89.7" width="11.0" height="15.0" fill="#64e09a"/><rect x="1407.2" y="89.7" width="25.1" height="15.0" fill="#8ce274"/><rect x="1431.9" y="89.7" width="25.1" height="15.0" fill="#ffff00"/><rect x="1456.6" y="89.7" width="25.1" height="15.0" fill="#e8c000"/><rect x="1481.3" y="89.7" width="35.7" height="15.0" fill="#ffff00"/><rect x="1516.5" y="89.7" width="17.4" height="15.0" fill="#c8e848"/><rect x="904.5" y="104.1" width="189.1" height="34.9" fill="#80e080"/><rect x="1093.2" y="104.1" width="23.3" height="34.9" fill="#80e080"/><rect x="1116.1" y="104.1" width="16.3" height="34.9" fill="#8ce274"/><rect x="1132.0" y="104.1" width="23.3" height="34.9" fill="#a8e048"/><rect x="1154.9" y="104.1" width="11.0" height="34.9" fill="#ffff00"/><rect x="1165.5" y="104.1" width="30.4" height="34.9" fill="#e8c000"/><rect x="1195.5" y="104.1" width="9.2" height="34.9" fill="#ffff00"/><rect x="1204.3" y="104.1" width="9.2" height="34.9" fill="#c8e848"/><rect x="1213.1" y="104.1" width="21.6" height="34.9" fill="#8ce274"/><rect x="1234.3" y="104.1" width="28.6" height="34.9" fill="#80e080"/><rect x="1262.5" y="104.1" width="7.5" height="34.9" fill="#64e09a"/><rect x="1269.6" y="104.1" width="23.3" height="34.9" fill="#00ffff"/><rect x="1292.5" y="104.1" width="39.2" height="34.9" fill="#0880c8"/><rect x="1331.3" y="104.1" width="32.1" height="34.9" fill="#0000ff"/><rect x="1363.1" y="104.1" width="19.8" height="34.9" fill="#0880c8"/><rect x="1382.5" y="104.1" width="18.0" height="34.9" fill="#00ffff"/><rect x="1400.1" y="104.1" width="9.2" height="34.9" fill="#64e09a"/><rect x="1408.9" y="104.1" width="23.3" height="34.9" fill="#8ce274"/><rect x="1431.9" y="104.1" width="16.3" height="34.9" fill="#ffff00"/><rect x="1447.7" y="104.1" width="65.7" height="34.9" fill="#e8c000"/><rect x="1513.0" y="104.1" width="20.9" height="34.9" fill="#ffff00"/><rect x="904.5" y="138.4" width="189.1" height="34.9" fill="#80e080"/><rect x="1093.2" y="138.4" width="39.2" height="34.9" fill="#80e080"/><rect x="1132.0" y="138.4" width="7.5" height="34.9" fill="#8ce274"/><rect x="1139.1" y="138.4" width="28.6" height="34.9" fill="#a8e048"/><rect x="1167.3" y="138.4" width="9.2" height="34.9" fill="#ffff00"/><rect x="1176.1" y="138.4" width="16.3" height="34.9" fill="#e8e000"/><rect x="1192.0" y="138.4" width="21.6" height="34.9" fill="#e8c000"/><rect x="1213.1" y="138.4" width="11.0" height="34.9" fill="#e8e000"/><rect x="1223.7" y="138.4" width="14.5" height="34.9" fill="#e8c000"/><rect x="1237.8" y="138.4" width="11.0" height="34.9" fill="#ffff00"/><rect x="1248.4" y="138.4" width="18.0" height="34.9" fill="#c8e848"/><rect x="1266.1" y="138.4" width="19.8" height="34.9" fill="#8ce274"/><rect x="1285.5" y="138.4" width="3.9" height="34.9" fill="#64e09a"/><rect x="1289.0" y="138.4" width="11.0" height="34.9" fill="#00ffff"/><rect x="1299.6" y="138.4" width="19.8" height="34.9" fill="#08a0c8"/><rect x="1319.0" y="138.4" width="12.7" height="34.9" fill="#0448e0"/><rect x="1331.3" y="138.4" width="51.6" height="34.9" fill="#0000ff"/><rect x="1382.5" y="138.4" width="19.8" height="34.9" fill="#0880c8"/><rect x="1401.9" y="138.4" width="16.3" height="34.9" fill="#00ffff"/><rect x="1417.8" y="138.4" width="7.5" height="34.9" fill="#64e09a"/><rect x="1424.8" y="138.4" width="18.0" height="34.9" fill="#8ce274"/><rect x="1442.4" y="138.4" width="19.8" height="34.9" fill="#c8e848"/><rect x="1461.9" y="138.4" width="30.4" height="34.9" fill="#ffff00"/><rect x="1491.8" y="138.4" width="25.1" height="34.9" fill="#e8c000"/><rect x="1516.5" y="138.4" width="17.4" height="34.9" fill="#ffff00"/><rect x="904.5" y="172.8" width="189.1" height="34.9" fill="#80e080"/><rect x="1093.2" y="172.8" width="28.6" height="34.9" fill="#80e080"/><rect x="1121.4" y="172.8" width="12.7" height="34.9" fill="#c8e848"/><rect x="1133.8" y="172.8" width="12.7" height="34.9" fill="#ffff00"/><rect x="1146.1" y="172.8" width="12.7" height="34.9" fill="#e8e000"/><rect x="1158.5" y="172.8" width="19.8" height="34.9" fill="#e8c000"/><rect x="1177.9" y="172.8" width="12.7" height="34.9" fill="#e8a400"/><rect x="1190.2" y="172.8" width="11.0" height="34.9" fill="#e8c000"/><rect x="1200.8" y="172.8" width="9.2" height="34.9" fill="#ffff00"/><rect x="1209.6" y="172.8" width="25.1" height="34.9" fill="#a8e048"/><rect x="1234.3" y="172.8" width="14.5" height="34.9" fill="#8ce274"/><rect x="1248.4" y="172.8" width="9.2" height="34.9" fill="#30c8d0"/><rect x="1257.2" y="172.8" width="18.0" height="34.9" fill="#00ffff"/><rect x="1274.9" y="172.8" width="21.6" height="34.9" fill="#0880c8"/><rect x="1296.0" y="172.8" width="30.4" height="34.9" fill="#0000ff"/><rect x="1326.0" y="172.8" width="28.6" height="34.9" fill="#0000d0"/><rect x="1354.3" y="172.8" width="19.8" height="34.9" fill="#0000ff"/><rect x="1373.7" y="172.8" width="12.7" height="34.9" fill="#0880c8"/><rect x="1386.0" y="172.8" width="18.0" height="34.9" fill="#00ffff"/><rect x="1403.6" y="172.8" width="7.5" height="34.9" fill="#64e09a"/><rect x="1410.7" y="172.8" width="18.0" height="34.9" fill="#8ce274"/><rect x="1428.3" y="172.8" width="7.5" height="34.9" fill="#c8e848"/><rect x="1435.4" y="172.8" width="25.1" height="34.9" fill="#ffff00"/><rect x="1460.1" y="172.8" width="49.8" height="34.9" fill="#e8a400"/><rect x="1509.5" y="172.8" width="11.0" height="34.9" fill="#e8c000"/><rect x="1520.1" y="172.8" width="13.8" height="34.9" fill="#ffff00"/><rect x="904.5" y="207.1" width="189.1" height="34.9" fill="#80e080"/><rect x="1093.2" y="207.1" width="32.1" height="34.9" fill="#80e080"/><rect x="1124.9" y="207.1" width="7.5" height="34.9" fill="#8ce274"/><rect x="1132.0" y="207.1" width="16.3" height="34.9" fill="#c8e848"/><rect x="1147.9" y="207.1" width="12.7" height="34.9" fill="#ffff00"/><rect x="1160.2" y="207.1" width="21.6" height="34.9" fill="#e8c000"/><rect x="1181.4" y="207.1" width="12.7" height="34.9" fill="#e8a400"/><rect x="1193.7" y="207.1" width="7.5" height="34.9" fill="#e8c000"/><rect x="1200.8" y="207.1" width="9.2" height="34.9" fill="#ffff00"/><rect x="1209.6" y="207.1" width="25.1" height="34.9" fill="#a8e048"/><rect x="1234.3" y="207.1" width="26.9" height="34.9" fill="#8ce274"/><rect x="1260.8" y="207.1" width="16.3" height="34.9" fill="#30c8d0"/><rect x="1276.6" y="207.1" width="19.8" height="34.9" fill="#00ffff"/><rect x="1296.0" y="207.1" width="28.6" height="34.9" fill="#08a0c8"/><rect x="1324.3" y="207.1" width="48.0" height="34.9" fill="#0000ff"/><rect x="1371.9" y="207.1" width="16.3" height="34.9" fill="#0880c8"/><rect x="1387.8" y="207.1" width="21.6" height="34.9" fill="#00ffff"/><rect x="1408.9" y="207.1" width="7.5" height="34.9" fill="#64e09a"/><rect x="1416.0" y="207.1" width="21.6" height="34.9" fill="#8ce274"/><rect x="1437.2" y="207.1" width="9.2" height="34.9" fill="#c8e848"/><rect x="1446.0" y="207.1" width="19.8" height="34.9" fill="#ffff00"/><rect x="1465.4" y="207.1" width="33.9" height="34.9" fill="#e8c000"/><rect x="1498.9" y="207.1" width="12.7" height="34.9" fill="#e8a400"/><rect x="1511.2" y="207.1" width="9.2" height="34.9" fill="#e8c000"/><rect x="1520.1" y="207.1" width="13.8" height="34.9" fill="#e8e000"/><rect x="904.5" y="241.5" width="189.1" height="34.9" fill="#80e080"/><rect x="1093.2" y="241.5" width="58.6" height="34.9" fill="#80e080"/><rect x="1151.4" y="241.5" width="14.5" height="34.9" fill="#c8e848"/><rect x="1165.5" y="241.5" width="21.6" height="34.9" fill="#ffff00"/><rect x="1186.7" y="241.5" width="11.0" height="34.9" fill="#e8e000"/><rect x="1197.3" y="241.5" width="18.0" height="34.9" fill="#ffff00"/><rect x="1214.9" y="241.5" width="37.4" height="34.9" fill="#c8e848"/><rect x="1251.9" y="241.5" width="44.5" height="34.9" fill="#8ce274"/><rect x="1296.0" y="241.5" width="9.2" height="34.9" fill="#64e09a"/><rect x="1304.9" y="241.5" width="18.0" height="34.9" fill="#00ffff"/><rect x="1322.5" y="241.5" width="26.9" height="34.9" fill="#0880c8"/><rect x="1349.0" y="241.5" width="19.8" height="34.9" fill="#0000ff"/><rect x="1368.4" y="241.5" width="14.5" height="34.9" fill="#0448e0"/><rect x="1382.5" y="241.5" width="19.8" height="34.9" fill="#0880c8"/><rect x="1401.9" y="241.5" width="16.3" height="34.9" fill="#00ffff"/><rect x="1417.8" y="241.5" width="7.5" height="34.9" fill="#64e09a"/><rect x="1424.8" y="241.5" width="39.2" height="34.9" fill="#8ce274"/><rect x="1463.6" y="241.5" width="25.1" height="34.9" fill="#a8e048"/><rect x="1488.3" y="241.5" width="21.6" height="34.9" fill="#ffff00"/><rect x="1509.5" y="241.5" width="24.4" height="34.9" fill="#e8e000"/><rect x="904.5" y="275.8" width="189.1" height="34.9" fill="#80e080"/><rect x="1093.2" y="275.8" width="33.9" height="34.9" fill="#80e080"/><rect x="1126.7" y="275.8" width="7.5" height="34.9" fill="#c8e848"/><rect x="1133.8" y="275.8" width="14.5" height="34.9" fill="#ffff00"/><rect x="1147.9" y="275.8" width="51.6" height="34.9" fill="#e8c000"/><rect x="1199.0" y="275.8" width="9.2" height="34.9" fill="#e8e000"/><rect x="1207.9" y="275.8" width="11.0" height="34.9" fill="#ffff00"/><rect x="1218.4" y="275.8" width="16.3" height="34.9" fill="#c8e848"/><rect x="1234.3" y="275.8" width="14.5" height="34.9" fill="#8ce274"/><rect x="1248.4" y="275.8" width="19.8" height="34.9" fill="#30c8d0"/><rect x="1267.8" y="275.8" width="28.6" height="34.9" fill="#00ffff"/><rect x="1296.0" y="275.8" width="25.1" height="34.9" fill="#0880c8"/><rect x="1320.7" y="275.8" width="16.3" height="34.9" fill="#0000ff"/><rect x="1336.6" y="275.8" width="16.3" height="34.9" fill="#0000d0"/><rect x="1352.5" y="275.8" width="30.4" height="34.9" fill="#0000ff"/><rect x="1382.5" y="275.8" width="18.0" height="34.9" fill="#08a0c8"/><rect x="1400.1" y="275.8" width="19.8" height="34.9" fill="#00ffff"/><rect x="1419.5" y="275.8" width="5.7" height="34.9" fill="#64e09a"/><rect x="1424.8" y="275.8" width="14.5" height="34.9" fill="#8ce274"/><rect x="1438.9" y="275.8" width="21.6" height="34.9" fill="#a8e048"/><rect x="1460.1" y="275.8" width="9.2" height="34.9" fill="#ffff00"/><rect x="1468.9" y="275.8" width="18.0" height="34.9" fill="#e8e000"/><rect x="1486.5" y="275.8" width="30.4" height="34.9" fill="#e8c000"/><rect x="1516.5" y="275.8" width="17.4" height="34.9" fill="#e8e000"/><rect x="904.5" y="310.1" width="189.1" height="34.9" fill="#80e080"/><rect x="1093.2" y="310.1" width="35.7" height="34.9" fill="#80e080"/><rect x="1128.5" y="310.1" width="14.5" height="34.9" fill="#a8e048"/><rect x="1142.6" y="310.1" width="14.5" height="34.9" fill="#ffff00"/><rect x="1156.7" y="310.1" width="48.0" height="34.9" fill="#e8c000"/><rect x="1204.3" y="310.1" width="12.7" height="34.9" fill="#ffff00"/><rect x="1216.7" y="310.1" width="18.0" height="34.9" fill="#c8e848"/><rect x="1234.3" y="310.1" width="35.7" height="34.9" fill="#80e080"/><rect x="1269.6" y="310.1" width="14.5" height="34.9" fill="#30c8d0"/><rect x="1283.7" y="310.1" width="23.3" height="34.9" fill="#00ffff"/><rect x="1306.6" y="310.1" width="23.3" height="34.9" fill="#0880c8"/><rect x="1329.6" y="310.1" width="53.3" height="34.9" fill="#0000ff"/><rect x="1382.5" y="310.1" width="16.3" height="34.9" fill="#08a0c8"/><rect x="1398.4" y="310.1" width="25.1" height="34.9" fill="#00ffff"/><rect x="1423.0" y="310.1" width="5.7" height="34.9" fill="#64e09a"/><rect x="1428.3" y="310.1" width="18.0" height="34.9" fill="#8ce274"/><rect x="1446.0" y="310.1" width="14.5" height="34.9" fill="#a8e048"/><rect x="1460.1" y="310.1" width="26.9" height="34.9" fill="#ffff00"/><rect x="1486.5" y="310.1" width="47.4" height="34.9" fill="#e8c000"/><rect x="904.5" y="344.5" width="189.1" height="34.9" fill="#80e080"/><rect x="1093.2" y="344.5" width="35.7" height="34.9" fill="#80e080"/><rect x="1128.5" y="344.5" width="14.5" height="34.9" fill="#a8e048"/><rect x="1142.6" y="344.5" width="78.0" height="34.9" fill="#ffff00"/><rect x="1220.2" y="344.5" width="14.5" height="34.9" fill="#c8e848"/><rect x="1234.3" y="344.5" width="62.1" height="34.9" fill="#8ce274"/><rect x="1296.0" y="344.5" width="5.7" height="34.9" fill="#64e09a"/><rect x="1301.3" y="344.5" width="18.0" height="34.9" fill="#00ffff"/><rect x="1319.0" y="344.5" width="16.3" height="34.9" fill="#0880c8"/><rect x="1334.9" y="344.5" width="51.6" height="34.9" fill="#0000ff"/><rect x="1386.0" y="344.5" width="33.9" height="34.9" fill="#0880c8"/><rect x="1419.5" y="344.5" width="14.5" height="34.9" fill="#00ffff"/><rect x="1433.6" y="344.5" width="7.5" height="34.9" fill="#64e09a"/><rect x="1440.7" y="344.5" width="23.3" height="34.9" fill="#8ce274"/><rect x="1463.6" y="344.5" width="21.6" height="34.9" fill="#c8e848"/><rect x="1484.8" y="344.5" width="16.3" height="34.9" fill="#ffff00"/><rect x="1500.7" y="344.5" width="16.3" height="34.9" fill="#e8e000"/><rect x="1516.5" y="344.5" width="17.4" height="34.9" fill="#e8c000"/><rect x="904.5" y="378.8" width="189.1" height="34.9" fill="#80e080"/><rect x="1093.2" y="378.8" width="37.4" height="34.9" fill="#80e080"/><rect x="1130.2" y="378.8" width="23.3" height="34.9" fill="#a8e048"/><rect x="1153.2" y="378.8" width="60.4" height="34.9" fill="#ffff00"/><rect x="1213.1" y="378.8" width="21.6" height="34.9" fill="#c8e848"/><rect x="1234.3" y="378.8" width="67.4" height="34.9" fill="#8ce274"/><rect x="1301.3" y="378.8" width="3.9" height="34.9" fill="#64e09a"/><rect x="1304.9" y="378.8" width="16.3" height="34.9" fill="#00ffff"/><rect x="1320.7" y="378.8" width="19.8" height="34.9" fill="#0880c8"/><rect x="1340.1" y="378.8" width="37.4" height="34.9" fill="#0000ff"/><rect x="1377.2" y="378.8" width="42.7" height="34.9" fill="#0880c8"/><rect x="1419.5" y="378.8" width="14.5" height="34.9" fill="#00ffff"/><rect x="1433.6" y="378.8" width="7.5" height="34.9" fill="#64e09a"/><rect x="1440.7" y="378.8" width="19.8" height="34.9" fill="#8ce274"/><rect x="1460.1" y="378.8" width="28.6" height="34.9" fill="#c8e848"/><rect x="1488.3" y="378.8" width="21.6" height="34.9" fill="#ffff00"/><rect x="1509.5" y="378.8" width="24.4" height="34.9" fill="#e8c000"/><rect x="904.5" y="413.2" width="189.1" height="34.9" fill="#80e080"/><rect x="1093.2" y="413.2" width="26.9" height="34.9" fill="#80e080"/><rect x="1119.7" y="413.2" width="41.0" height="34.9" fill="#a8e048"/><rect x="1160.2" y="413.2" width="41.0" height="34.9" fill="#ffff00"/><rect x="1200.8" y="413.2" width="19.8" height="34.9" fill="#8ce274"/><rect x="1220.2" y="413.2" width="35.7" height="34.9" fill="#80e080"/><rect x="1255.5" y="413.2" width="7.5" height="34.9" fill="#64e09a"/><rect x="1262.5" y="413.2" width="28.6" height="34.9" fill="#00ffff"/><rect x="1290.8" y="413.2" width="49.8" height="34.9" fill="#08a0c8"/><rect x="1340.1" y="413.2" width="25.1" height="34.9" fill="#0880c8"/><rect x="1364.8" y="413.2" width="9.2" height="34.9" fill="#30c8d0"/><rect x="1373.7" y="413.2" width="14.5" height="34.9" fill="#00ffff"/><rect x="1387.8" y="413.2" width="9.2" height="34.9" fill="#64e09a"/><rect x="1396.6" y="413.2" width="28.6" height="34.9" fill="#8ce274"/><rect x="1424.8" y="413.2" width="7.5" height="34.9" fill="#c8e848"/><rect x="1431.9" y="413.2" width="16.3" height="34.9" fill="#ffff00"/><rect x="1447.7" y="413.2" width="30.4" height="34.9" fill="#e8c000"/><rect x="1477.7" y="413.2" width="35.7" height="34.9" fill="#ffff00"/><rect x="1513.0" y="413.2" width="20.9" height="34.9" fill="#c8e848"/><rect x="904.5" y="447.5" width="189.1" height="34.9" fill="#80e080"/><rect x="1093.2" y="447.5" width="33.9" height="34.9" fill="#80e080"/><rect x="1126.7" y="447.5" width="9.2" height="34.9" fill="#c8e848"/><rect x="1135.5" y="447.5" width="11.0" height="34.9" fill="#ffff00"/><rect x="1146.1" y="447.5" width="39.2" height="34.9" fill="#e8c000"/><rect x="1184.9" y="447.5" width="14.5" height="34.9" fill="#e8a400"/><rect x="1199.0" y="447.5" width="9.2" height="34.9" fill="#ffff00"/><rect x="1207.9" y="447.5" width="12.7" height="34.9" fill="#c8e848"/><rect x="1220.2" y="447.5" width="21.6" height="34.9" fill="#8ce274"/><rect x="1241.4" y="447.5" width="28.6" height="34.9" fill="#00ffff"/><rect x="1269.6" y="447.5" width="35.7" height="34.9" fill="#0880c8"/><rect x="1304.9" y="447.5" width="7.5" height="34.9" fill="#0448e0"/><rect x="1311.9" y="447.5" width="49.8" height="34.9" fill="#0000ff"/><rect x="1361.3" y="447.5" width="19.8" height="34.9" fill="#0880c8"/><rect x="1380.7" y="447.5" width="18.0" height="34.9" fill="#00ffff"/><rect x="1398.4" y="447.5" width="9.2" height="34.9" fill="#64e09a"/><rect x="1407.2" y="447.5" width="21.6" height="34.9" fill="#8ce274"/><rect x="1428.3" y="447.5" width="3.9" height="34.9" fill="#c8e848"/><rect x="1431.9" y="447.5" width="16.3" height="34.9" fill="#ffff00"/><rect x="1447.7" y="447.5" width="16.3" height="34.9" fill="#e8c000"/><rect x="1463.6" y="447.5" width="11.0" height="34.9" fill="#e88800"/><rect x="1474.2" y="447.5" width="37.4" height="34.9" fill="#e8a400"/><rect x="1511.2" y="447.5" width="5.7" height="34.9" fill="#e8c000"/><rect x="1516.5" y="447.5" width="17.4" height="34.9" fill="#ffff00"/><rect x="904.5" y="481.8" width="189.1" height="34.9" fill="#80e080"/><rect x="1093.2" y="481.8" width="30.4" height="34.9" fill="#80e080"/><rect x="1123.2" y="481.8" width="9.2" height="34.9" fill="#c8e848"/><rect x="1132.0" y="481.8" width="7.5" height="34.9" fill="#ffff00"/><rect x="1139.1" y="481.8" width="9.2" height="34.9" fill="#e8a400"/><rect x="1147.9" y="481.8" width="26.9" height="34.9" fill="#e88800"/><rect x="1174.3" y="481.8" width="28.6" height="34.9" fill="#e8a400"/><rect x="1202.6" y="481.8" width="14.5" height="34.9" fill="#ffff00"/><rect x="1216.7" y="481.8" width="16.3" height="34.9" fill="#c8e848"/><rect x="1232.5" y="481.8" width="9.2" height="34.9" fill="#8ce274"/><rect x="1241.4" y="481.8" width="33.9" height="34.9" fill="#00ffff"/><rect x="1274.9" y="481.8" width="21.6" height="34.9" fill="#08a0c8"/><rect x="1296.0" y="481.8" width="14.5" height="34.9" fill="#0880c8"/><rect x="1310.2" y="481.8" width="16.3" height="34.9" fill="#0000ff"/><rect x="1326.0" y="481.8" width="12.7" height="34.9" fill="#0000d0"/><rect x="1338.4" y="481.8" width="16.3" height="34.9" fill="#000088"/><rect x="1354.3" y="481.8" width="19.8" height="34.9" fill="#0000d0"/><rect x="1373.7" y="481.8" width="9.2" height="34.9" fill="#0000ff"/><rect x="1382.5" y="481.8" width="18.0" height="34.9" fill="#08a0c8"/><rect x="1400.1" y="481.8" width="19.8" height="34.9" fill="#00ffff"/><rect x="1419.5" y="481.8" width="9.2" height="34.9" fill="#64e09a"/><rect x="1428.3" y="481.8" width="18.0" height="34.9" fill="#8ce274"/><rect x="1446.0" y="481.8" width="11.0" height="34.9" fill="#c8e848"/><rect x="1456.6" y="481.8" width="9.2" height="34.9" fill="#ffff00"/><rect x="1465.4" y="481.8" width="44.5" height="34.9" fill="#e8a400"/><rect x="1509.5" y="481.8" width="11.0" height="34.9" fill="#e8c000"/><rect x="1520.1" y="481.8" width="13.8" height="34.9" fill="#e8e000"/><rect x="904.5" y="516.2" width="189.1" height="17.1" fill="#80e080"/><rect x="1093.2" y="516.2" width="35.7" height="17.1" fill="#80e080"/><rect x="1128.5" y="516.2" width="14.5" height="17.1" fill="#c8e848"/><rect x="1142.6" y="516.2" width="21.6" height="17.1" fill="#ffff00"/><rect x="1163.8" y="516.2" width="7.5" height="17.1" fill="#e8e000"/><rect x="1170.8" y="516.2" width="42.7" height="17.1" fill="#ffff00"/><rect x="1213.1" y="516.2" width="21.6" height="17.1" fill="#c8e848"/><rect x="1234.3" y="516.2" width="35.7" height="17.1" fill="#8ce274"/><rect x="1269.6" y="516.2" width="25.1" height="17.1" fill="#30c8d0"/><rect x="1294.3" y="516.2" width="21.6" height="17.1" fill="#00ffff"/><rect x="1315.4" y="516.2" width="21.6" height="17.1" fill="#0880c8"/><rect x="1336.6" y="516.2" width="42.7" height="17.1" fill="#0000ff"/><rect x="1378.9" y="516.2" width="23.3" height="17.1" fill="#0880c8"/><rect x="1401.9" y="516.2" width="26.9" height="17.1" fill="#00ffff"/><rect x="1428.3" y="516.2" width="9.2" height="17.1" fill="#64e09a"/><rect x="1437.2" y="516.2" width="23.3" height="17.1" fill="#8ce274"/><rect x="1460.1" y="516.2" width="37.4" height="17.1" fill="#ffff00"/><rect x="1497.1" y="516.2" width="19.8" height="17.1" fill="#e8e000"/><rect x="1516.5" y="516.2" width="17.4" height="17.1" fill="#e8c000"/>
</g></g>
<rect x="904.5" y="90" width="629" height="443" fill="none" stroke="#2c3a2c" stroke-width="2.2" opacity="0.62" filter="url(#tb)"/>
<path d="M1030.3 90.0v4.5M1030.3 533.0v-4.5M1156.1 90.0v4.5M1156.1 533.0v-4.5M1281.9 90.0v4.5M1281.9 533.0v-4.5M1407.7 90.0v4.5M1407.7 533.0v-4.5M904.5 124.1h4M1533.5 124.1h-4M904.5 158.2h4M1533.5 158.2h-4M904.5 192.2h4M1533.5 192.2h-4M904.5 226.3h4M1533.5 226.3h-4M904.5 260.4h4M1533.5 260.4h-4M904.5 294.5h4M1533.5 294.5h-4M904.5 328.5h4M1533.5 328.5h-4M904.5 362.6h4M1533.5 362.6h-4M904.5 396.7h4M1533.5 396.7h-4M904.5 430.8h4M1533.5 430.8h-4M904.5 464.8h4M1533.5 464.8h-4M904.5 498.9h4M1533.5 498.9h-4" stroke="#2f4f2f" stroke-width="1.8" fill="none" opacity="0.6" filter="url(#tb)"/>
<g font-size="30.5" text-anchor="end" filter="url(#tb)">
<text transform="translate(897 99.0) scale(0.96 1)">O2</text>
<text transform="translate(897 133.1) scale(0.96 1)">O1</text>
<text transform="translate(897 167.2) scale(0.96 1)">P8</text>
<text transform="translate(897 201.2) scale(0.96 1)">P4</text>
<text transform="translate(897 235.3) scale(0.96 1)">P3</text>
<text transform="translate(897 269.4) scale(0.96 1)">P7</text>
<text transform="translate(897 303.5) scale(0.96 1)">C4</text>
<text transform="translate(897 337.5) scale(0.96 1)">C3</text>
<text transform="translate(897 371.6) scale(0.96 1)">F4</text>
<text transform="translate(897 405.7) scale(0.96 1)">F3</text>
<text transform="translate(897 439.8) scale(0.96 1)">Oz</text>
<text transform="translate(897 473.8) scale(0.96 1)">Pz</text>
<text transform="translate(897 507.9) scale(0.96 1)">Cz</text>
<text transform="translate(897 542.0) scale(0.96 1)">Fz</text>
</g>
<g font-size="31" text-anchor="middle" filter="url(#tb)">
<text transform="translate(902.7 563.4) scale(0.965 1)">0</text>
<text transform="translate(1028.5 563.4) scale(0.965 1)">200</text>
<text transform="translate(1154.3 563.4) scale(0.965 1)">400</text>
<text transform="translate(1280.1 563.4) scale(0.965 1)">600</text>
<text transform="translate(1405.9 563.4) scale(0.965 1)">800</text>
<text transform="translate(1531.7 563.4) scale(0.965 1)">1000</text>
</g>
<clipPath id="cx_h2"><rect x="1016" y="500" width="400" height="97.5"/></clipPath>
<g clip-path="url(#cx_h2)"><text x="1216" y="596" font-size="30" text-anchor="middle" filter="url(#tb)">Time (ms)</text></g>
<text transform="translate(845 312) rotate(-90)" font-size="31" text-anchor="middle" filter="url(#tb)">Electrode</text>
</g>
<g>
<text x="1772" y="36.2" font-size="35" textLength="392" lengthAdjust="spacing" filter="url(#tb)">The colored ball pattern</text>
<clipPath id="c_h3"><rect x="1669.5" y="90" width="629" height="443"/></clipPath>
<rect x="1669.5" y="90" width="629" height="443" fill="#80e080"/>
<g clip-path="url(#c_h3)"><g filter="url(#hb)">
<rect x="1649.5" y="70" width="669" height="483" fill="#80e080"/>
<rect x="1669.5" y="89.7" width="152.6" height="15.0" fill="#80e080"/><rect x="1821.7" y="89.7" width="36.9" height="15.0" fill="#58dc98"/><rect x="1858.2" y="89.7" width="0.4" height="15.0" fill="#80e080"/><rect x="1858.2" y="89.7" width="18.0" height="15.0" fill="#80e080"/><rect x="1875.8" y="89.7" width="12.7" height="15.0" fill="#c8e848"/><rect x="1888.2" y="89.7" width="7.5" height="15.0" fill="#ffff00"/><rect x="1895.2" y="89.7" width="62.1" height="15.0" fill="#e86c00"/><rect x="1957.0" y="89.7" width="11.0" height="15.0" fill="#ffff00"/><rect x="1967.6" y="89.7" width="14.5" height="15.0" fill="#c8e848"/><rect x="1981.7" y="89.7" width="35.7" height="15.0" fill="#8ce274"/><rect x="2016.9" y="89.7" width="11.0" height="15.0" fill="#30c8d0"/><rect x="2027.5" y="89.7" width="33.9" height="15.0" fill="#00ffff"/><rect x="2061.0" y="89.7" width="26.9" height="15.0" fill="#0880c8"/><rect x="2087.5" y="89.7" width="42.7" height="15.0" fill="#0000ff"/><rect x="2129.8" y="89.7" width="11.0" height="15.0" fill="#0880c8"/><rect x="2140.4" y="89.7" width="11.0" height="15.0" fill="#00ffff"/><rect x="2151.0" y="89.7" width="25.1" height="15.0" fill="#80e080"/><rect x="2175.7" y="89.7" width="14.5" height="15.0" fill="#c8e848"/><rect x="2189.8" y="89.7" width="11.0" height="15.0" fill="#ffff00"/><rect x="2200.4" y="89.7" width="25.1" height="15.0" fill="#e8a400"/><rect x="2225.1" y="89.7" width="48.0" height="15.0" fill="#ffff00"/><rect x="2272.7" y="89.7" width="26.2" height="15.0" fill="#8ce274"/><rect x="1669.5" y="104.1" width="152.6" height="34.9" fill="#80e080"/><rect x="1821.7" y="104.1" width="36.9" height="34.9" fill="#58dc98"/><rect x="1858.2" y="104.1" width="0.4" height="34.9" fill="#80e080"/><rect x="1858.2" y="104.1" width="18.0" height="34.9" fill="#80e080"/><rect x="1875.8" y="104.1" width="12.7" height="34.9" fill="#c8e848"/><rect x="1888.2" y="104.1" width="7.5" height="34.9" fill="#ffff00"/><rect x="1895.2" y="104.1" width="14.5" height="34.9" fill="#e88800"/><rect x="1909.4" y="104.1" width="48.0" height="34.9" fill="#e86c00"/><rect x="1957.0" y="104.1" width="11.0" height="34.9" fill="#ffff00"/><rect x="1967.6" y="104.1" width="14.5" height="34.9" fill="#c8e848"/><rect x="1981.7" y="104.1" width="35.7" height="34.9" fill="#8ce274"/><rect x="2016.9" y="104.1" width="11.0" height="34.9" fill="#30c8d0"/><rect x="2027.5" y="104.1" width="35.7" height="34.9" fill="#00ffff"/><rect x="2062.8" y="104.1" width="32.1" height="34.9" fill="#0880c8"/><rect x="2094.6" y="104.1" width="11.0" height="34.9" fill="#0000ff"/><rect x="2105.1" y="104.1" width="37.4" height="34.9" fill="#0880c8"/><rect x="2142.2" y="104.1" width="9.2" height="34.9" fill="#00ffff"/><rect x="2151.0" y="104.1" width="25.1" height="34.9" fill="#80e080"/><rect x="2175.7" y="104.1" width="14.5" height="34.9" fill="#c8e848"/><rect x="2189.8" y="104.1" width="11.0" height="34.9" fill="#ffff00"/><rect x="2200.4" y="104.1" width="19.8" height="34.9" fill="#e88800"/><rect x="2219.8" y="104.1" width="7.5" height="34.9" fill="#e8c000"/><rect x="2226.9" y="104.1" width="46.3" height="34.9" fill="#ffff00"/><rect x="2272.7" y="104.1" width="26.2" height="34.9" fill="#8ce274"/><rect x="1669.5" y="138.4" width="189.1" height="34.9" fill="#80e080"/><rect x="1858.2" y="138.4" width="26.9" height="34.9" fill="#80e080"/><rect x="1884.7" y="138.4" width="9.2" height="34.9" fill="#c8e848"/><rect x="1893.5" y="138.4" width="9.2" height="34.9" fill="#ffff00"/><rect x="1902.3" y="138.4" width="28.6" height="34.9" fill="#e8a400"/><rect x="1930.5" y="138.4" width="28.6" height="34.9" fill="#e86c00"/><rect x="1958.7" y="138.4" width="9.2" height="34.9" fill="#e88800"/><rect x="1967.6" y="138.4" width="7.5" height="34.9" fill="#ffff00"/><rect x="1974.6" y="138.4" width="11.0" height="34.9" fill="#c8e848"/><rect x="1985.2" y="138.4" width="42.7" height="34.9" fill="#8ce274"/><rect x="2027.5" y="138.4" width="7.5" height="34.9" fill="#64e09a"/><rect x="2034.6" y="138.4" width="30.4" height="34.9" fill="#00ffff"/><rect x="2064.6" y="138.4" width="28.6" height="34.9" fill="#0880c8"/><rect x="2092.8" y="138.4" width="44.5" height="34.9" fill="#0000ff"/><rect x="2136.9" y="138.4" width="16.3" height="34.9" fill="#0880c8"/><rect x="2152.8" y="138.4" width="19.8" height="34.9" fill="#00ffff"/><rect x="2172.2" y="138.4" width="9.2" height="34.9" fill="#64e09a"/><rect x="2181.0" y="138.4" width="16.3" height="34.9" fill="#8ce274"/><rect x="2196.9" y="138.4" width="9.2" height="34.9" fill="#c8e848"/><rect x="2205.7" y="138.4" width="76.2" height="34.9" fill="#ffff00"/><rect x="2281.5" y="138.4" width="17.4" height="34.9" fill="#c8e848"/><rect x="1669.5" y="172.8" width="189.1" height="34.9" fill="#80e080"/><rect x="1858.2" y="172.8" width="28.6" height="34.9" fill="#80e080"/><rect x="1886.4" y="172.8" width="7.5" height="34.9" fill="#c8e848"/><rect x="1893.5" y="172.8" width="9.2" height="34.9" fill="#ffff00"/><rect x="1902.3" y="172.8" width="18.0" height="34.9" fill="#e86c00"/><rect x="1919.9" y="172.8" width="26.9" height="34.9" fill="#ff0000"/><rect x="1946.4" y="172.8" width="11.0" height="34.9" fill="#e85000"/><rect x="1957.0" y="172.8" width="7.5" height="34.9" fill="#e88800"/><rect x="1964.0" y="172.8" width="7.5" height="34.9" fill="#ffff00"/><rect x="1971.1" y="172.8" width="21.6" height="34.9" fill="#8ce274"/><rect x="1992.3" y="172.8" width="11.0" height="34.9" fill="#30c8d0"/><rect x="2002.8" y="172.8" width="18.0" height="34.9" fill="#00ffff"/><rect x="2020.5" y="172.8" width="53.3" height="34.9" fill="#0880c8"/><rect x="2073.4" y="172.8" width="18.0" height="34.9" fill="#0000ff"/><rect x="2091.0" y="172.8" width="32.1" height="34.9" fill="#0000d0"/><rect x="2122.8" y="172.8" width="14.5" height="34.9" fill="#0000ff"/><rect x="2136.9" y="172.8" width="16.3" height="34.9" fill="#0880c8"/><rect x="2152.8" y="172.8" width="14.5" height="34.9" fill="#00ffff"/><rect x="2166.9" y="172.8" width="7.5" height="34.9" fill="#64e09a"/><rect x="2173.9" y="172.8" width="16.3" height="34.9" fill="#8ce274"/><rect x="2189.8" y="172.8" width="7.5" height="34.9" fill="#c8e848"/><rect x="2196.9" y="172.8" width="7.5" height="34.9" fill="#ffff00"/><rect x="2203.9" y="172.8" width="39.2" height="34.9" fill="#e8a400"/><rect x="2242.7" y="172.8" width="28.6" height="34.9" fill="#e88800"/><rect x="2270.9" y="172.8" width="12.7" height="34.9" fill="#e8c000"/><rect x="2283.3" y="172.8" width="15.6" height="34.9" fill="#ffff00"/><rect x="1669.5" y="207.1" width="142.6" height="34.9" fill="#80e080"/><rect x="1811.7" y="207.1" width="14.2" height="34.9" fill="#a0e080"/><rect x="1825.5" y="207.1" width="33.1" height="34.9" fill="#80e080"/><rect x="1858.2" y="207.1" width="30.4" height="34.9" fill="#80e080"/><rect x="1888.2" y="207.1" width="7.5" height="34.9" fill="#c8e848"/><rect x="1895.2" y="207.1" width="9.2" height="34.9" fill="#ffff00"/><rect x="1904.1" y="207.1" width="16.3" height="34.9" fill="#e88800"/><rect x="1919.9" y="207.1" width="35.7" height="34.9" fill="#e85000"/><rect x="1955.2" y="207.1" width="9.2" height="34.9" fill="#e88800"/><rect x="1964.0" y="207.1" width="7.5" height="34.9" fill="#ffff00"/><rect x="1971.1" y="207.1" width="33.9" height="34.9" fill="#8ce274"/><rect x="2004.6" y="207.1" width="7.5" height="34.9" fill="#30c8d0"/><rect x="2011.7" y="207.1" width="19.8" height="34.9" fill="#00ffff"/><rect x="2031.1" y="207.1" width="56.8" height="34.9" fill="#08a0c8"/><rect x="2087.5" y="207.1" width="18.0" height="34.9" fill="#0000ff"/><rect x="2105.1" y="207.1" width="18.0" height="34.9" fill="#0000d0"/><rect x="2122.8" y="207.1" width="21.6" height="34.9" fill="#0000ff"/><rect x="2143.9" y="207.1" width="11.0" height="34.9" fill="#0880c8"/><rect x="2154.5" y="207.1" width="14.5" height="34.9" fill="#00ffff"/><rect x="2168.6" y="207.1" width="7.5" height="34.9" fill="#64e09a"/><rect x="2175.7" y="207.1" width="18.0" height="34.9" fill="#8ce274"/><rect x="2193.3" y="207.1" width="9.2" height="34.9" fill="#c8e848"/><rect x="2202.2" y="207.1" width="7.5" height="34.9" fill="#ffff00"/><rect x="2209.2" y="207.1" width="28.6" height="34.9" fill="#e8c000"/><rect x="2237.4" y="207.1" width="21.6" height="34.9" fill="#e88800"/><rect x="2258.6" y="207.1" width="11.0" height="34.9" fill="#e86c00"/><rect x="2269.2" y="207.1" width="16.3" height="34.9" fill="#e88800"/><rect x="2285.1" y="207.1" width="13.8" height="34.9" fill="#e8c000"/><rect x="1669.5" y="241.5" width="189.1" height="34.9" fill="#80e080"/><rect x="1858.2" y="241.5" width="2.9" height="34.9" fill="#80e080"/><rect x="1860.7" y="241.5" width="18.0" height="34.9" fill="#58dc98"/><rect x="1878.3" y="241.5" width="15.6" height="34.9" fill="#80e080"/><rect x="1893.5" y="241.5" width="7.5" height="34.9" fill="#64e09a"/><rect x="1900.5" y="241.5" width="9.2" height="34.9" fill="#c8e848"/><rect x="1909.4" y="241.5" width="18.0" height="34.9" fill="#ffff00"/><rect x="1927.0" y="241.5" width="16.3" height="34.9" fill="#e8a400"/><rect x="1942.9" y="241.5" width="18.0" height="34.9" fill="#e86c00"/><rect x="1960.5" y="241.5" width="7.5" height="34.9" fill="#e88800"/><rect x="1967.6" y="241.5" width="9.2" height="34.9" fill="#ffff00"/><rect x="1976.4" y="241.5" width="11.0" height="34.9" fill="#c8e848"/><rect x="1987.0" y="241.5" width="48.0" height="34.9" fill="#8ce274"/><rect x="2034.6" y="241.5" width="18.0" height="34.9" fill="#30c8d0"/><rect x="2052.2" y="241.5" width="37.4" height="34.9" fill="#00ffff"/><rect x="2089.3" y="241.5" width="30.4" height="34.9" fill="#0880c8"/><rect x="2119.3" y="241.5" width="28.6" height="34.9" fill="#0000ff"/><rect x="2147.5" y="241.5" width="7.5" height="34.9" fill="#0880c8"/><rect x="2154.5" y="241.5" width="18.0" height="34.9" fill="#00ffff"/><rect x="2172.2" y="241.5" width="9.2" height="34.9" fill="#64e09a"/><rect x="2181.0" y="241.5" width="23.3" height="34.9" fill="#8ce274"/><rect x="2203.9" y="241.5" width="19.8" height="34.9" fill="#c8e848"/><rect x="2223.3" y="241.5" width="7.5" height="34.9" fill="#ffff00"/><rect x="2230.4" y="241.5" width="12.7" height="34.9" fill="#c8e848"/><rect x="2242.7" y="241.5" width="12.7" height="34.9" fill="#ffff00"/><rect x="2255.1" y="241.5" width="16.3" height="34.9" fill="#e8c000"/><rect x="2270.9" y="241.5" width="14.5" height="34.9" fill="#e8e000"/><rect x="2285.1" y="241.5" width="13.8" height="34.9" fill="#ffff00"/><rect x="1669.5" y="275.8" width="135.6" height="34.9" fill="#80e080"/><rect x="1804.7" y="275.8" width="19.3" height="34.9" fill="#a0e080"/><rect x="1823.6" y="275.8" width="22.4" height="34.9" fill="#a8e048"/><rect x="1845.6" y="275.8" width="7.9" height="34.9" fill="#a0e080"/><rect x="1853.2" y="275.8" width="5.4" height="34.9" fill="#80e080"/><rect x="1858.2" y="275.8" width="2.9" height="34.9" fill="#80e080"/><rect x="1860.7" y="275.8" width="18.0" height="34.9" fill="#58dc98"/><rect x="1878.3" y="275.8" width="13.8" height="34.9" fill="#80e080"/><rect x="1891.7" y="275.8" width="7.5" height="34.9" fill="#c8e848"/><rect x="1898.8" y="275.8" width="7.5" height="34.9" fill="#ffff00"/><rect x="1905.8" y="275.8" width="16.3" height="34.9" fill="#e88800"/><rect x="1921.7" y="275.8" width="23.3" height="34.9" fill="#e85000"/><rect x="1944.6" y="275.8" width="14.5" height="34.9" fill="#e88800"/><rect x="1958.7" y="275.8" width="12.7" height="34.9" fill="#ffff00"/><rect x="1971.1" y="275.8" width="11.0" height="34.9" fill="#c8e848"/><rect x="1981.7" y="275.8" width="23.3" height="34.9" fill="#8ce274"/><rect x="2004.6" y="275.8" width="5.7" height="34.9" fill="#30c8d0"/><rect x="2009.9" y="275.8" width="58.6" height="34.9" fill="#00ffff"/><rect x="2068.1" y="275.8" width="9.2" height="34.9" fill="#08a0c8"/><rect x="2076.9" y="275.8" width="12.7" height="34.9" fill="#0880c8"/><rect x="2089.3" y="275.8" width="16.3" height="34.9" fill="#0000ff"/><rect x="2105.1" y="275.8" width="21.6" height="34.9" fill="#000088"/><rect x="2126.3" y="275.8" width="23.3" height="34.9" fill="#0000ff"/><rect x="2149.2" y="275.8" width="12.7" height="34.9" fill="#0880c8"/><rect x="2161.6" y="275.8" width="25.1" height="34.9" fill="#00ffff"/><rect x="2186.3" y="275.8" width="7.5" height="34.9" fill="#64e09a"/><rect x="2193.3" y="275.8" width="21.6" height="34.9" fill="#8ce274"/><rect x="2214.5" y="275.8" width="14.5" height="34.9" fill="#c8e848"/><rect x="2228.6" y="275.8" width="9.2" height="34.9" fill="#ffff00"/><rect x="2237.4" y="275.8" width="21.6" height="34.9" fill="#e8a400"/><rect x="2258.6" y="275.8" width="30.4" height="34.9" fill="#e88800"/><rect x="2288.6" y="275.8" width="10.3" height="34.9" fill="#e8c000"/><rect x="1669.5" y="310.1" width="148.2" height="34.9" fill="#80e080"/><rect x="1817.3" y="310.1" width="11.1" height="34.9" fill="#a8e048"/><rect x="1828.0" y="310.1" width="21.2" height="34.9" fill="#a0e080"/><rect x="1848.8" y="310.1" width="9.8" height="34.9" fill="#80e080"/><rect x="1858.2" y="310.1" width="2.9" height="34.9" fill="#80e080"/><rect x="1860.7" y="310.1" width="15.6" height="34.9" fill="#58dc98"/><rect x="1875.8" y="310.1" width="18.0" height="34.9" fill="#80e080"/><rect x="1893.5" y="310.1" width="11.0" height="34.9" fill="#c8e848"/><rect x="1904.1" y="310.1" width="7.5" height="34.9" fill="#ffff00"/><rect x="1911.1" y="310.1" width="12.7" height="34.9" fill="#e8a400"/><rect x="1923.5" y="310.1" width="32.1" height="34.9" fill="#e86c00"/><rect x="1955.2" y="310.1" width="12.7" height="34.9" fill="#ffff00"/><rect x="1967.6" y="310.1" width="11.0" height="34.9" fill="#c8e848"/><rect x="1978.1" y="310.1" width="32.1" height="34.9" fill="#8ce274"/><rect x="2009.9" y="310.1" width="5.7" height="34.9" fill="#30c8d0"/><rect x="2015.2" y="310.1" width="58.6" height="34.9" fill="#00ffff"/><rect x="2073.4" y="310.1" width="19.8" height="34.9" fill="#08a0c8"/><rect x="2092.8" y="310.1" width="16.3" height="34.9" fill="#0000ff"/><rect x="2108.7" y="310.1" width="19.8" height="34.9" fill="#0000d0"/><rect x="2128.1" y="310.1" width="19.8" height="34.9" fill="#0000ff"/><rect x="2147.5" y="310.1" width="14.5" height="34.9" fill="#0880c8"/><rect x="2161.6" y="310.1" width="21.6" height="34.9" fill="#00ffff"/><rect x="2182.8" y="310.1" width="9.2" height="34.9" fill="#30c8d0"/><rect x="2191.6" y="310.1" width="19.8" height="34.9" fill="#8ce274"/><rect x="2211.0" y="310.1" width="16.3" height="34.9" fill="#c8e848"/><rect x="2226.9" y="310.1" width="9.2" height="34.9" fill="#ffff00"/><rect x="2235.7" y="310.1" width="11.0" height="34.9" fill="#e8a400"/><rect x="2246.3" y="310.1" width="18.0" height="34.9" fill="#e88800"/><rect x="2263.9" y="310.1" width="9.2" height="34.9" fill="#e85000"/><rect x="2272.7" y="310.1" width="19.8" height="34.9" fill="#e88800"/><rect x="2292.1" y="310.1" width="6.8" height="34.9" fill="#e8a400"/><rect x="1669.5" y="344.5" width="86.6" height="34.9" fill="#80e080"/><rect x="1755.7" y="344.5" width="15.5" height="34.9" fill="#a0e080"/><rect x="1770.8" y="344.5" width="9.2" height="34.9" fill="#80e080"/><rect x="1779.6" y="344.5" width="9.8" height="34.9" fill="#a0e080"/><rect x="1789.0" y="344.5" width="16.1" height="34.9" fill="#80e080"/><rect x="1804.7" y="344.5" width="25.6" height="34.9" fill="#a0e080"/><rect x="1829.9" y="344.5" width="11.1" height="34.9" fill="#a8e048"/><rect x="1840.6" y="344.5" width="13.0" height="34.9" fill="#a0e080"/><rect x="1853.2" y="344.5" width="5.4" height="34.9" fill="#80e080"/><rect x="1858.2" y="344.5" width="39.2" height="34.9" fill="#80e080"/><rect x="1897.0" y="344.5" width="9.2" height="34.9" fill="#c8e848"/><rect x="1905.8" y="344.5" width="16.3" height="34.9" fill="#ffff00"/><rect x="1921.7" y="344.5" width="32.1" height="34.9" fill="#e8c000"/><rect x="1953.4" y="344.5" width="9.2" height="34.9" fill="#ffff00"/><rect x="1962.3" y="344.5" width="16.3" height="34.9" fill="#c8e848"/><rect x="1978.1" y="344.5" width="39.2" height="34.9" fill="#8ce274"/><rect x="2016.9" y="344.5" width="28.6" height="34.9" fill="#80e080"/><rect x="2045.2" y="344.5" width="12.7" height="34.9" fill="#30c8d0"/><rect x="2057.5" y="344.5" width="26.9" height="34.9" fill="#00ffff"/><rect x="2084.0" y="344.5" width="14.5" height="34.9" fill="#08a0c8"/><rect x="2098.1" y="344.5" width="11.0" height="34.9" fill="#0000ff"/><rect x="2108.7" y="344.5" width="25.1" height="34.9" fill="#0000d0"/><rect x="2133.4" y="344.5" width="18.0" height="34.9" fill="#0000ff"/><rect x="2151.0" y="344.5" width="19.8" height="34.9" fill="#0880c8"/><rect x="2170.4" y="344.5" width="26.9" height="34.9" fill="#00ffff"/><rect x="2196.9" y="344.5" width="7.5" height="34.9" fill="#64e09a"/><rect x="2203.9" y="344.5" width="25.1" height="34.9" fill="#8ce274"/><rect x="2228.6" y="344.5" width="14.5" height="34.9" fill="#ffff00"/><rect x="2242.7" y="344.5" width="26.9" height="34.9" fill="#e8c000"/><rect x="2269.2" y="344.5" width="12.7" height="34.9" fill="#e88800"/><rect x="2281.5" y="344.5" width="17.4" height="34.9" fill="#e8a400"/><rect x="1669.5" y="378.8" width="70.8" height="34.9" fill="#80e080"/><rect x="1739.9" y="378.8" width="9.8" height="34.9" fill="#a0e080"/><rect x="1749.4" y="378.8" width="30.6" height="34.9" fill="#80e080"/><rect x="1779.6" y="378.8" width="13.6" height="34.9" fill="#a0e080"/><rect x="1792.8" y="378.8" width="12.4" height="34.9" fill="#80e080"/><rect x="1804.7" y="378.8" width="48.8" height="34.9" fill="#a0e080"/><rect x="1853.2" y="378.8" width="5.4" height="34.9" fill="#80e080"/><rect x="1858.2" y="378.8" width="41.0" height="34.9" fill="#80e080"/><rect x="1898.8" y="378.8" width="11.0" height="34.9" fill="#c8e848"/><rect x="1909.4" y="378.8" width="12.7" height="34.9" fill="#ffff00"/><rect x="1921.7" y="378.8" width="30.4" height="34.9" fill="#e8c000"/><rect x="1951.7" y="378.8" width="11.0" height="34.9" fill="#ffff00"/><rect x="1962.3" y="378.8" width="16.3" height="34.9" fill="#c8e848"/><rect x="1978.1" y="378.8" width="39.2" height="34.9" fill="#8ce274"/><rect x="2016.9" y="378.8" width="33.9" height="34.9" fill="#80e080"/><rect x="2050.5" y="378.8" width="7.5" height="34.9" fill="#30c8d0"/><rect x="2057.5" y="378.8" width="30.4" height="34.9" fill="#00ffff"/><rect x="2087.5" y="378.8" width="12.7" height="34.9" fill="#0880c8"/><rect x="2099.9" y="378.8" width="14.5" height="34.9" fill="#0000ff"/><rect x="2114.0" y="378.8" width="33.9" height="34.9" fill="#0000d0"/><rect x="2147.5" y="378.8" width="19.8" height="34.9" fill="#0880c8"/><rect x="2166.9" y="378.8" width="32.1" height="34.9" fill="#00ffff"/><rect x="2198.6" y="378.8" width="7.5" height="34.9" fill="#64e09a"/><rect x="2205.7" y="378.8" width="25.1" height="34.9" fill="#8ce274"/><rect x="2230.4" y="378.8" width="14.5" height="34.9" fill="#ffff00"/><rect x="2244.5" y="378.8" width="25.1" height="34.9" fill="#e8c000"/><rect x="2269.2" y="378.8" width="16.3" height="34.9" fill="#e88800"/><rect x="2285.1" y="378.8" width="13.8" height="34.9" fill="#e86c00"/><rect x="1669.5" y="413.2" width="150.1" height="34.9" fill="#80e080"/><rect x="1819.2" y="413.2" width="47.6" height="34.9" fill="#58dc98"/><rect x="1866.4" y="413.2" width="-7.8" height="34.9" fill="#80e080"/><rect x="1858.2" y="413.2" width="28.6" height="34.9" fill="#80e080"/><rect x="1886.4" y="413.2" width="9.2" height="34.9" fill="#ffff00"/><rect x="1895.2" y="413.2" width="63.9" height="34.9" fill="#e86c00"/><rect x="1958.7" y="413.2" width="9.2" height="34.9" fill="#ffff00"/><rect x="1967.6" y="413.2" width="11.0" height="34.9" fill="#c8e848"/><rect x="1978.1" y="413.2" width="33.9" height="34.9" fill="#8ce274"/><rect x="2011.7" y="413.2" width="16.3" height="34.9" fill="#30c8d0"/><rect x="2027.5" y="413.2" width="33.9" height="34.9" fill="#00ffff"/><rect x="2061.0" y="413.2" width="33.9" height="34.9" fill="#0880c8"/><rect x="2094.6" y="413.2" width="11.0" height="34.9" fill="#0000ff"/><rect x="2105.1" y="413.2" width="25.1" height="34.9" fill="#0880c8"/><rect x="2129.8" y="413.2" width="7.5" height="34.9" fill="#30c8d0"/><rect x="2136.9" y="413.2" width="12.7" height="34.9" fill="#00ffff"/><rect x="2149.2" y="413.2" width="26.9" height="34.9" fill="#80e080"/><rect x="2175.7" y="413.2" width="14.5" height="34.9" fill="#c8e848"/><rect x="2189.8" y="413.2" width="12.7" height="34.9" fill="#ffff00"/><rect x="2202.2" y="413.2" width="18.0" height="34.9" fill="#e88800"/><rect x="2219.8" y="413.2" width="9.2" height="34.9" fill="#e8c000"/><rect x="2228.6" y="413.2" width="41.0" height="34.9" fill="#ffff00"/><rect x="2269.2" y="413.2" width="29.7" height="34.9" fill="#8ce274"/><rect x="1669.5" y="447.5" width="146.3" height="34.9" fill="#80e080"/><rect x="1815.4" y="447.5" width="38.1" height="34.9" fill="#a8e048"/><rect x="1853.2" y="447.5" width="5.4" height="34.9" fill="#80e080"/><rect x="1858.2" y="447.5" width="32.1" height="34.9" fill="#80e080"/><rect x="1889.9" y="447.5" width="7.5" height="34.9" fill="#c8e848"/><rect x="1897.0" y="447.5" width="7.5" height="34.9" fill="#ffff00"/><rect x="1904.1" y="447.5" width="14.5" height="34.9" fill="#e85000"/><rect x="1918.2" y="447.5" width="28.6" height="34.9" fill="#ff0000"/><rect x="1946.4" y="447.5" width="12.7" height="34.9" fill="#e85000"/><rect x="1958.7" y="447.5" width="9.2" height="34.9" fill="#ffff00"/><rect x="1967.6" y="447.5" width="7.5" height="34.9" fill="#c8e848"/><rect x="1974.6" y="447.5" width="14.5" height="34.9" fill="#8ce274"/><rect x="1988.7" y="447.5" width="3.9" height="34.9" fill="#64e09a"/><rect x="1992.3" y="447.5" width="16.3" height="34.9" fill="#00ffff"/><rect x="2008.1" y="447.5" width="19.8" height="34.9" fill="#0880c8"/><rect x="2027.5" y="447.5" width="30.4" height="34.9" fill="#0000ff"/><rect x="2057.5" y="447.5" width="18.0" height="34.9" fill="#0448e0"/><rect x="2075.2" y="447.5" width="18.0" height="34.9" fill="#0000ff"/><rect x="2092.8" y="447.5" width="30.4" height="34.9" fill="#0000d0"/><rect x="2122.8" y="447.5" width="12.7" height="34.9" fill="#0000ff"/><rect x="2135.1" y="447.5" width="12.7" height="34.9" fill="#0880c8"/><rect x="2147.5" y="447.5" width="11.0" height="34.9" fill="#00ffff"/><rect x="2158.1" y="447.5" width="7.5" height="34.9" fill="#64e09a"/><rect x="2165.1" y="447.5" width="19.8" height="34.9" fill="#8ce274"/><rect x="2184.5" y="447.5" width="5.7" height="34.9" fill="#c8e848"/><rect x="2189.8" y="447.5" width="11.0" height="34.9" fill="#ffff00"/><rect x="2200.4" y="447.5" width="11.0" height="34.9" fill="#e88800"/><rect x="2211.0" y="447.5" width="67.4" height="34.9" fill="#e86c00"/><rect x="2278.0" y="447.5" width="7.5" height="34.9" fill="#e88800"/><rect x="2285.1" y="447.5" width="13.8" height="34.9" fill="#ffff00"/><rect x="1669.5" y="481.8" width="146.3" height="34.9" fill="#80e080"/><rect x="1815.4" y="481.8" width="25.6" height="34.9" fill="#c8e848"/><rect x="1840.6" y="481.8" width="13.0" height="34.9" fill="#a8e048"/><rect x="1853.2" y="481.8" width="5.4" height="34.9" fill="#80e080"/><rect x="1858.2" y="481.8" width="8.5" height="34.9" fill="#80e080"/><rect x="1866.3" y="481.8" width="18.0" height="34.9" fill="#58dc98"/><rect x="1884.0" y="481.8" width="9.9" height="34.9" fill="#80e080"/><rect x="1893.5" y="481.8" width="7.5" height="34.9" fill="#c8e848"/><rect x="1900.5" y="481.8" width="7.5" height="34.9" fill="#ffff00"/><rect x="1907.6" y="481.8" width="11.0" height="34.9" fill="#e88800"/><rect x="1918.2" y="481.8" width="28.6" height="34.9" fill="#ff0000"/><rect x="1946.4" y="481.8" width="11.0" height="34.9" fill="#e88800"/><rect x="1957.0" y="481.8" width="11.0" height="34.9" fill="#ffff00"/><rect x="1967.6" y="481.8" width="7.5" height="34.9" fill="#c8e848"/><rect x="1974.6" y="481.8" width="18.0" height="34.9" fill="#8ce274"/><rect x="1992.3" y="481.8" width="7.5" height="34.9" fill="#30c8d0"/><rect x="1999.3" y="481.8" width="18.0" height="34.9" fill="#00ffff"/><rect x="2016.9" y="481.8" width="21.6" height="34.9" fill="#0880c8"/><rect x="2038.1" y="481.8" width="39.2" height="34.9" fill="#08a0c8"/><rect x="2076.9" y="481.8" width="12.7" height="34.9" fill="#0880c8"/><rect x="2089.3" y="481.8" width="16.3" height="34.9" fill="#0000ff"/><rect x="2105.1" y="481.8" width="18.0" height="34.9" fill="#000088"/><rect x="2122.8" y="481.8" width="23.3" height="34.9" fill="#0000ff"/><rect x="2145.7" y="481.8" width="11.0" height="34.9" fill="#0880c8"/><rect x="2156.3" y="481.8" width="18.0" height="34.9" fill="#00ffff"/><rect x="2173.9" y="481.8" width="7.5" height="34.9" fill="#30c8d0"/><rect x="2181.0" y="481.8" width="23.3" height="34.9" fill="#8ce274"/><rect x="2203.9" y="481.8" width="7.5" height="34.9" fill="#c8e848"/><rect x="2211.0" y="481.8" width="16.3" height="34.9" fill="#ffff00"/><rect x="2226.9" y="481.8" width="11.0" height="34.9" fill="#e8a400"/><rect x="2237.4" y="481.8" width="26.9" height="34.9" fill="#e86c00"/><rect x="2263.9" y="481.8" width="9.2" height="34.9" fill="#e85000"/><rect x="2272.7" y="481.8" width="14.5" height="34.9" fill="#e88800"/><rect x="2286.8" y="481.8" width="12.1" height="34.9" fill="#e8c000"/><rect x="1669.5" y="516.2" width="113.6" height="17.1" fill="#80e080"/><rect x="1782.7" y="516.2" width="38.1" height="17.1" fill="#a0e080"/><rect x="1820.5" y="516.2" width="22.4" height="17.1" fill="#a8e048"/><rect x="1842.5" y="516.2" width="13.0" height="17.1" fill="#a0e080"/><rect x="1855.1" y="516.2" width="3.5" height="17.1" fill="#80e080"/><rect x="1858.2" y="516.2" width="35.7" height="17.1" fill="#80e080"/><rect x="1893.5" y="516.2" width="11.0" height="17.1" fill="#c8e848"/><rect x="1904.1" y="516.2" width="14.5" height="17.1" fill="#ffff00"/><rect x="1918.2" y="516.2" width="32.1" height="17.1" fill="#e8c000"/><rect x="1949.9" y="516.2" width="12.7" height="17.1" fill="#ffff00"/><rect x="1962.3" y="516.2" width="12.7" height="17.1" fill="#c8e848"/><rect x="1974.6" y="516.2" width="42.7" height="17.1" fill="#8ce274"/><rect x="2016.9" y="516.2" width="35.7" height="17.1" fill="#30c8d0"/><rect x="2052.2" y="516.2" width="30.4" height="17.1" fill="#00ffff"/><rect x="2082.2" y="516.2" width="14.5" height="17.1" fill="#0880c8"/><rect x="2096.3" y="516.2" width="14.5" height="17.1" fill="#0000ff"/><rect x="2110.4" y="516.2" width="18.0" height="17.1" fill="#0000d0"/><rect x="2128.1" y="516.2" width="21.6" height="17.1" fill="#0000ff"/><rect x="2149.2" y="516.2" width="14.5" height="17.1" fill="#0880c8"/><rect x="2163.4" y="516.2" width="28.6" height="17.1" fill="#00ffff"/><rect x="2191.6" y="516.2" width="7.5" height="17.1" fill="#64e09a"/><rect x="2198.6" y="516.2" width="26.9" height="17.1" fill="#8ce274"/><rect x="2225.1" y="516.2" width="16.3" height="17.1" fill="#ffff00"/><rect x="2241.0" y="516.2" width="28.6" height="17.1" fill="#e8c000"/><rect x="2269.2" y="516.2" width="29.7" height="17.1" fill="#e88800"/>
</g></g>
<rect x="1669.5" y="90" width="629" height="443" fill="none" stroke="#2c3a2c" stroke-width="2.2" opacity="0.62" filter="url(#tb)"/>
<path d="M1795.3 90.0v4.5M1795.3 533.0v-4.5M1921.1 90.0v4.5M1921.1 533.0v-4.5M2046.9 90.0v4.5M2046.9 533.0v-4.5M2172.7 90.0v4.5M2172.7 533.0v-4.5M1669.5 124.1h4M2298.5 124.1h-4M1669.5 158.2h4M2298.5 158.2h-4M1669.5 192.2h4M2298.5 192.2h-4M1669.5 226.3h4M2298.5 226.3h-4M1669.5 260.4h4M2298.5 260.4h-4M1669.5 294.5h4M2298.5 294.5h-4M1669.5 328.5h4M2298.5 328.5h-4M1669.5 362.6h4M2298.5 362.6h-4M1669.5 396.7h4M2298.5 396.7h-4M1669.5 430.8h4M2298.5 430.8h-4M1669.5 464.8h4M2298.5 464.8h-4M1669.5 498.9h4M2298.5 498.9h-4" stroke="#2f4f2f" stroke-width="1.8" fill="none" opacity="0.6" filter="url(#tb)"/>
<g font-size="30.5" text-anchor="end" filter="url(#tb)">
<text transform="translate(1662 99.0) scale(0.96 1)">O2</text>
<text transform="translate(1662 133.1) scale(0.96 1)">O1</text>
<text transform="translate(1662 167.2) scale(0.96 1)">P8</text>
<text transform="translate(1662 201.2) scale(0.96 1)">P4</text>
<text transform="translate(1662 235.3) scale(0.96 1)">P3</text>
<text transform="translate(1662 269.4) scale(0.96 1)">P7</text>
<text transform="translate(1662 303.5) scale(0.96 1)">C4</text>
<text transform="translate(1662 337.5) scale(0.96 1)">C3</text>
<text transform="translate(1662 371.6) scale(0.96 1)">F4</text>
<text transform="translate(1662 405.7) scale(0.96 1)">F3</text>
<text transform="translate(1662 439.8) scale(0.96 1)">Oz</text>
<text transform="translate(1662 473.8) scale(0.96 1)">Pz</text>
<text transform="translate(1662 507.9) scale(0.96 1)">Cz</text>
<text transform="translate(1662 542.0) scale(0.96 1)">Fz</text>
</g>
<g font-size="31" text-anchor="middle" filter="url(#tb)">
<text transform="translate(1667.7 563.4) scale(0.965 1)">0</text>
<text transform="translate(1793.5 563.4) scale(0.965 1)">200</text>
<text transform="translate(1919.3 563.4) scale(0.965 1)">400</text>
<text transform="translate(2045.1 563.4) scale(0.965 1)">600</text>
<text transform="translate(2170.9 563.4) scale(0.965 1)">800</text>
<text transform="translate(2296.7 563.4) scale(0.965 1)">1000</text>
</g>
<clipPath id="cx_h3"><rect x="1781" y="500" width="400" height="97.5"/></clipPath>
<g clip-path="url(#cx_h3)"><text x="1981" y="596" font-size="30" text-anchor="middle" filter="url(#tb)">Time (ms)</text></g>
<text transform="translate(1610 312) rotate(-90)" font-size="31" text-anchor="middle" filter="url(#tb)">Electrode</text>
</g>
<g>
<g filter="url(#tb)"><rect x="2373" y="92" width="51" height="444" fill="url(#jet)"/></g>
<rect x="2373" y="92" width="51" height="444" fill="none" stroke="#333" stroke-width="1.2" opacity="0.35"/>
<g font-size="27.5" class="reg" letter-spacing="1.4" filter="url(#tb)">
<text class="reg" x="2427.5" y="101.5">0.1</text>
<text class="reg" x="2427.5" y="212.5">0.05</text>
<path d="M2373 203.0h5M2424 203.0h-5" stroke="#333" stroke-width="1.5"/>
<text class="reg" x="2427.5" y="323.5">0</text>
<path d="M2373 314.0h5M2424 314.0h-5" stroke="#333" stroke-width="1.5"/>
<text class="reg" x="2427.5" y="434.5">-0.05</text>
<path d="M2373 425.0h5M2424 425.0h-5" stroke="#333" stroke-width="1.5"/>
<text class="reg" x="2427.5" y="545.5">-0.1</text>
</g></g>
<g>
<text class="sans" transform="translate(428 632) scale(0.94 1)" font-size="36" text-anchor="middle" fill="#222" filter="url(#tb)">P7</text>
<rect x="124.5" y="657" width="610" height="421" fill="#fff" stroke="#666" stroke-width="3" filter="url(#tb)"/>
<path d="M246.5 657.0v4M246.5 1078.0v-4M368.5 657.0v4M368.5 1078.0v-4M490.5 657.0v4M490.5 1078.0v-4M612.5 657.0v4M612.5 1078.0v-4M124.5 737.0h6.5M734.5 737.0h-6.5M124.5 818.6h6.5M734.5 818.6h-6.5M124.5 900.2h6.5M734.5 900.2h-6.5M124.5 981.8h6.5M734.5 981.8h-6.5M124.5 1063.4h6.5M734.5 1063.4h-6.5" stroke="#555" stroke-width="2.2" fill="none" filter="url(#tb)"/>
<g font-size="31.5" text-anchor="end" filter="url(#tb)">
<text transform="translate(119.5 666.6) scale(0.95 1)">0.1</text>
<text transform="translate(119.5 746.5) scale(0.95 1)">0.05</text>
<text transform="translate(119.5 828.1) scale(0.95 1)">0</text>
<text transform="translate(119.5 909.7) scale(0.95 1)">-0.05</text>
<text transform="translate(119.5 991.3) scale(0.95 1)">-0.1</text>
<text transform="translate(119.5 1072.9) scale(0.95 1)">-0.15</text>
</g>
<g font-size="31.5" text-anchor="middle" filter="url(#tb)">
<text transform="translate(123.0 1110.3) scale(0.99 1)">0</text>
<text transform="translate(245.0 1110.3) scale(0.99 1)">200</text>
<text transform="translate(367.0 1110.3) scale(0.99 1)">400</text>
<text transform="translate(489.0 1110.3) scale(0.99 1)">600</text>
<text transform="translate(611.0 1110.3) scale(0.99 1)">800</text>
<text transform="translate(733.0 1110.3) scale(0.99 1)">1000</text>
</g>
<text x="427.5" y="1146" font-size="30" text-anchor="middle" filter="url(#tb)">Time (ms)</text>
<text transform="translate(43.5 868.5) rotate(-90)" font-size="33" text-anchor="middle" filter="url(#tb)">[sng r<tspan font-size="22" dy="-19">2</tspan><tspan dy="19">]</tspan></text>
<g fill="none" stroke-width="4.7" stroke-linejoin="round" stroke-linecap="round" filter="url(#cb)">
<path d="M124.2 818.7L166.8 817.8L195.2 816.8L228.4 814.0L244.5 814.0L261.5 817.8L289.9 820.6L300.0 822.0L310.2 824.6L322.8 825.8L335.5 823.3L350.8 816.9L363.5 801.7L371.1 786.5L378.7 761.1L386.3 733.2L393.9 715.4L399.0 709.0L404.1 715.4L414.2 738.2L419.3 761.1L424.4 781.4L429.5 794.1L442.2 799.2L457.4 806.8L472.6 814.4L480.2 827.1L487.9 839.8L500.6 844.9L510.7 852.5L520.9 865.2L528.5 880.4L536.1 903.3L541.2 926.1L547.5 943.9L556.4 954.0L564.0 959.1L572.9 952.8L579.3 956.6L584.3 956.6L589.4 938.8L594.5 918.5L599.6 898.2L609.7 875.3L619.9 855.0L627.5 832.2L637.6 819.5L647.8 806.8L660.5 801.7L670.7 791.5L678.3 773.8L683.3 771.2L691.0 772.5L698.6 768.7L706.2 767.4L718.9 768.7L729.0 773.8L734.1 775.0" stroke="#ff0808"/>
<path d="M124.2 817.8L162.1 815.9L185.8 813.0L204.7 814.9L223.6 816.8L242.6 816.8L261.5 819.7L289.9 818.7L300.0 822.0L312.7 823.3L325.4 822.0L338.1 820.7L350.8 819.5L363.5 811.9L373.6 794.1L383.8 786.5L393.9 776.3L401.5 766.2L406.6 766.2L414.2 781.4L421.9 789.0L432.0 790.3L439.6 790.3L452.3 799.2L465.0 809.3L477.7 814.4L490.4 818.2L498.0 824.6L508.2 842.3L520.9 855.0L525.9 872.8L533.6 893.1L541.2 910.9L553.9 914.7L561.5 926.1L566.6 928.6L576.7 922.3L584.3 922.3L592.0 905.8L599.6 888.0L607.2 867.7L617.3 847.4L630.0 827.1L642.7 814.4L655.4 808.1L668.1 804.2L680.8 799.2L691.0 789.0L701.1 773.8L711.3 768.7L718.9 763.6L724.0 763.6L734.1 773.8" stroke="#050505"/>
<path d="M124.2 817.8L162.1 817.8L176.3 820.6L190.5 816.8L214.2 815.9L223.6 820.6L237.8 816.8L252.0 818.7L271.0 818.7L289.9 821.6L300.0 825.8L310.2 828.4L322.8 829.6L333.0 823.3L343.2 811.9L350.8 799.2L357.1 786.5L364.7 783.9L371.1 766.2L378.7 753.5L388.9 738.2L396.5 731.9L401.5 735.7L409.2 758.5L416.8 781.4L424.4 799.2L429.5 811.9L442.2 815.7L452.3 818.2L462.5 827.1L470.1 829.6L480.2 844.9L487.9 842.3L500.6 855.0L515.8 872.8L528.5 885.5L536.1 903.3L541.2 912.1L551.3 913.4L558.9 923.6L566.6 938.8L571.6 943.9L576.7 940.1L584.3 923.6L589.4 898.2L594.5 877.9L602.1 860.1L609.7 852.5L619.9 832.2L630.0 824.6L640.2 809.3L650.3 789.0L663.0 787.7L670.7 794.1L675.7 791.5L683.3 776.3L693.5 763.6L701.1 761.1L708.7 763.6L718.9 771.2L727.8 777.6L734.1 772.5" stroke="#0808ff"/>
</g>
<rect x="149.5" y="970" width="553.5" height="101" fill="#fff" stroke="#505050" stroke-width="2.3" filter="url(#tb)"/>
<rect x="160" y="985.6" width="56" height="4.8" rx="1" fill="#ff0808" filter="url(#tb)"/>
<text x="224" y="996.5" font-size="26" textLength="470" lengthAdjust="spacingAndGlyphs" filter="url(#tb)">The colored dummy face pattern</text>
<rect x="160" y="1018.6" width="56" height="4.8" rx="1" fill="#050505" filter="url(#tb)"/>
<text x="224" y="1029.5" font-size="26" textLength="427" lengthAdjust="spacingAndGlyphs" filter="url(#tb)">The grey dummy face pattern</text>
<rect x="160" y="1050.6" width="56" height="4.8" rx="1" fill="#0808ff" filter="url(#tb)"/>
<text x="224" y="1061.5" font-size="26" textLength="352" lengthAdjust="spacingAndGlyphs" filter="url(#tb)">The colored ball pattern</text>
</g>
<g>
<text class="sans" transform="translate(1226 632) scale(0.94 1)" font-size="36" text-anchor="middle" fill="#222" filter="url(#tb)">Cz</text>
<rect x="923.5" y="657" width="610" height="421" fill="#fff" stroke="#666" stroke-width="3" filter="url(#tb)"/>
<path d="M1045.5 657.0v4M1045.5 1078.0v-4M1167.5 657.0v4M1167.5 1078.0v-4M1289.5 657.0v4M1289.5 1078.0v-4M1411.5 657.0v4M1411.5 1078.0v-4M923.5 737.0h6.5M1533.5 737.0h-6.5M923.5 818.6h6.5M1533.5 818.6h-6.5M923.5 900.2h6.5M1533.5 900.2h-6.5M923.5 981.8h6.5M1533.5 981.8h-6.5M923.5 1063.4h6.5M1533.5 1063.4h-6.5" stroke="#555" stroke-width="2.2" fill="none" filter="url(#tb)"/>
<g font-size="31.5" text-anchor="end" filter="url(#tb)">
<text transform="translate(916.5 666.6) scale(0.92 1)">0.1</text>
<text transform="translate(916.5 746.5) scale(0.92 1)">0.05</text>
<text transform="translate(916.5 828.1) scale(0.92 1)">0</text>
<text transform="translate(916.5 909.7) scale(0.92 1)">-0.05</text>
<text transform="translate(916.5 991.3) scale(0.92 1)">-0.1</text>
<text transform="translate(916.5 1072.9) scale(0.92 1)">-0.15</text>
</g>
<g font-size="31.5" text-anchor="middle" filter="url(#tb)">
<text transform="translate(922.0 1110.3) scale(0.99 1)">0</text>
<text transform="translate(1044.0 1110.3) scale(0.99 1)">200</text>
<text transform="translate(1166.0 1110.3) scale(0.99 1)">400</text>
<text transform="translate(1288.0 1110.3) scale(0.99 1)">600</text>
<text transform="translate(1410.0 1110.3) scale(0.99 1)">800</text>
<text transform="translate(1532.0 1110.3) scale(0.99 1)">1000</text>
</g>
<text x="1226.5" y="1146" font-size="30" text-anchor="middle" filter="url(#tb)">Time (ms)</text>
<text transform="translate(842.5 868.5) rotate(-90)" font-size="33" text-anchor="middle" filter="url(#tb)">[sng r<tspan font-size="22" dy="-19">2</tspan><tspan dy="19">]</tspan></text>
<g fill="none" stroke-width="4.7" stroke-linejoin="round" stroke-linecap="round" filter="url(#cb)">
<path d="M923.7 821.6L966.8 820.6L985.8 814.0L1004.7 817.8L1033.1 813.0L1045.4 807.3L1061.5 811.1L1080.5 808.3L1100.0 814.1L1112.4 818.7L1123.2 820.2L1131.0 815.6L1140.3 800.1L1149.6 762.9L1158.9 716.5L1166.6 688.6L1175.9 680.8L1186.7 688.6L1194.5 704.1L1202.2 728.9L1208.4 750.5L1214.6 775.3L1223.9 806.3L1233.2 834.2L1242.5 852.8L1251.8 877.6L1261.1 905.4L1270.4 930.2L1276.6 941.1L1282.8 939.5L1292.1 924.0L1301.4 914.7L1307.6 911.6L1313.8 933.3L1320.0 955.0L1324.6 973.6L1332.3 979.8L1337.0 998.4L1341.6 1010.8L1346.3 1017.0L1352.5 1010.8L1363.3 989.1L1369.5 964.3L1378.8 927.1L1388.1 893.0L1400.5 855.9L1409.8 840.4L1416.0 821.8L1425.3 814.1L1434.6 803.2L1447.0 784.6L1459.4 762.9L1468.6 738.2L1474.8 716.5L1477.9 711.8L1484.1 719.6L1493.4 724.2L1502.7 735.1L1512.0 747.4L1518.2 762.9L1526.0 773.8L1533.1 766.0" stroke="#ff0808"/>
<path d="M923.7 820.6L966.8 820.6L985.8 814.9L1004.7 816.8L1033.1 814.0L1061.5 812.1L1089.9 813.0L1100.0 811.0L1112.4 815.6L1124.8 815.6L1134.1 809.4L1143.4 790.8L1152.7 759.8L1162.0 744.3L1172.8 735.1L1180.5 741.3L1192.9 750.5L1205.3 755.2L1214.6 772.2L1223.9 787.7L1233.2 806.3L1244.1 821.8L1251.8 843.5L1261.1 862.1L1273.5 868.3L1285.9 883.8L1298.3 893.0L1310.7 911.6L1320.0 930.2L1329.2 945.7L1335.4 955.0L1341.6 973.6L1347.8 979.8L1354.0 976.7L1366.4 961.2L1378.8 933.3L1391.2 899.2L1403.6 874.5L1416.0 852.8L1428.4 824.9L1440.8 800.1L1453.2 787.7L1462.5 775.3L1471.7 756.7L1484.1 753.6L1496.5 745.9L1505.8 753.6L1515.1 762.9L1524.4 769.1L1533.1 769.1" stroke="#050505"/>
<path d="M923.7 822.5L966.8 823.4L985.8 818.7L1004.7 817.8L1033.1 813.0L1047.3 814.9L1061.5 805.5L1080.5 798.8L1100.0 811.0L1109.3 821.8L1117.0 831.1L1124.8 832.6L1132.5 824.9L1140.3 803.2L1149.6 762.9L1158.9 728.9L1168.2 701.0L1177.4 691.7L1185.2 701.0L1192.9 728.9L1202.2 762.9L1211.5 800.1L1220.8 821.8L1230.1 837.3L1239.4 846.6L1248.7 862.1L1258.0 880.7L1267.3 896.1L1273.5 900.8L1282.8 893.0L1292.1 886.9L1304.5 885.3L1316.9 893.0L1324.6 905.4L1332.3 927.1L1338.5 948.8L1344.7 967.4L1350.9 976.7L1358.7 967.4L1369.5 948.8L1378.8 927.1L1388.1 893.0L1397.4 868.3L1409.8 846.6L1419.1 828.0L1428.4 818.7L1440.8 797.0L1453.2 778.4L1465.6 759.8L1474.8 741.3L1482.6 725.8L1491.9 725.8L1501.2 719.6L1508.9 728.9L1518.2 747.4L1527.5 761.4L1533.1 766.0" stroke="#0808ff"/>
</g>
</g>
<g>
<text class="sans" transform="translate(1992 630) scale(0.94 1)" font-size="36" text-anchor="middle" fill="#222" filter="url(#tb)">Fz</text>
<rect x="1689" y="653" width="609.5" height="430" fill="#fff" stroke="#707070" stroke-width="3.1" filter="url(#tb)"/>
<path d="M1810.9 653.0v4M1810.9 1083.0v-4M1932.8 653.0v4M1932.8 1083.0v-4M2054.7 653.0v4M2054.7 1083.0v-4M2176.6 653.0v4M2176.6 1083.0v-4M1689.0 736.1h6.5M2298.5 736.1h-6.5M1689.0 818.6h6.5M2298.5 818.6h-6.5M1689.0 901.1h6.5M2298.5 901.1h-6.5M1689.0 983.6h6.5M2298.5 983.6h-6.5M1689.0 1066.1h6.5M2298.5 1066.1h-6.5" stroke="#555" stroke-width="2.2" fill="none" filter="url(#tb)"/>
<g font-size="31.5" text-anchor="end" filter="url(#tb)">
<text transform="translate(1681.5 663.8) scale(0.92 1)">0.1</text>
<text transform="translate(1681.5 745.3) scale(0.92 1)">0.05</text>
<text transform="translate(1681.5 827.8) scale(0.92 1)">0</text>
<text transform="translate(1681.5 910.3) scale(0.92 1)">-0.05</text>
<text transform="translate(1681.5 992.8) scale(0.92 1)">-0.1</text>
<text transform="translate(1681.5 1075.3) scale(0.92 1)">-0.15</text>
</g>
<g font-size="31.5" text-anchor="middle" filter="url(#tb)">
<text transform="translate(1687.5 1112.3) scale(0.99 1)">0</text>
<text transform="translate(1809.4 1112.3) scale(0.99 1)">200</text>
<text transform="translate(1931.3 1112.3) scale(0.99 1)">400</text>
<text transform="translate(2053.2 1112.3) scale(0.99 1)">600</text>
<text transform="translate(2175.1 1112.3) scale(0.99 1)">800</text>
<text transform="translate(2297.0 1112.3) scale(0.99 1)">1000</text>
</g>
<text x="1991.75" y="1147" font-size="30" text-anchor="middle" filter="url(#tb)">Time (ms)</text>
<text transform="translate(1608 869) rotate(-90)" font-size="33" text-anchor="middle" filter="url(#tb)">[sng r<tspan font-size="22" dy="-19">2</tspan><tspan dy="19">]</tspan></text>
<g fill="none" stroke-width="4.7" stroke-linejoin="round" stroke-linecap="round" filter="url(#cb)">
<path d="M1688.7 821.6L1731.8 820.6L1750.8 814.0L1779.2 815.9L1798.1 813.0L1811.4 808.3L1826.5 812.1L1845.5 814.0L1860.0 816.2L1872.9 817.5L1885.8 820.1L1896.1 816.2L1906.5 803.3L1914.2 790.4L1920.7 767.1L1927.1 751.6L1934.9 741.3L1941.3 738.7L1949.1 742.6L1958.1 754.2L1968.4 769.7L1978.8 785.2L1989.1 800.7L1999.4 813.6L2009.8 823.9L2020.1 844.6L2027.8 860.1L2035.6 870.4L2040.7 873.0L2048.5 865.2L2058.8 852.3L2066.6 852.3L2074.3 860.1L2082.1 878.2L2088.5 904.0L2097.5 924.6L2105.3 953.0L2111.7 968.5L2118.2 972.4L2128.5 971.1L2136.3 958.2L2146.6 940.1L2156.9 922.1L2167.3 901.4L2172.4 880.7L2182.7 852.3L2195.7 834.3L2208.6 813.6L2221.5 795.5L2231.8 777.5L2239.6 762.0L2247.3 755.5L2262.8 755.5L2278.3 758.1L2288.6 756.8L2298.4 755.5" stroke="#ff0808"/>
<path d="M1688.7 819.7L1712.9 819.7L1731.8 820.6L1750.8 814.9L1769.7 814.9L1798.1 815.9L1817.0 815.9L1836.0 814.0L1850.2 817.8L1860.0 817.5L1872.9 817.5L1885.8 817.5L1898.7 813.6L1911.6 798.1L1924.5 777.5L1934.9 768.4L1942.6 768.4L1950.4 774.9L1958.1 780.0L1968.4 780.0L1978.8 781.3L1989.1 787.8L1999.4 800.7L2009.8 813.6L2014.9 823.9L2025.2 834.3L2035.6 836.8L2045.9 842.0L2058.8 844.6L2069.1 849.8L2079.5 862.7L2087.2 880.7L2097.5 901.4L2105.3 924.6L2113.0 935.0L2123.4 937.5L2133.7 935.0L2144.0 932.4L2151.8 922.1L2159.5 906.6L2167.3 883.3L2177.6 878.2L2185.3 870.4L2193.1 852.3L2200.8 834.3L2211.1 816.2L2221.5 800.7L2231.8 780.0L2242.1 781.3L2252.5 780.0L2260.2 772.3L2268.0 764.5L2278.3 762.0L2288.6 758.1L2298.4 755.5" stroke="#050505"/>
<path d="M1688.7 823.4L1712.9 822.5L1731.8 820.6L1750.8 814.0L1769.7 812.1L1798.1 812.1L1817.0 811.1L1836.0 807.3L1847.3 803.6L1854.9 807.3L1860.0 811.0L1867.7 812.3L1875.5 821.4L1883.2 827.8L1891.0 826.5L1901.3 818.8L1911.6 800.7L1922.0 780.0L1932.3 762.0L1940.0 751.6L1947.8 749.1L1955.5 754.2L1963.3 767.1L1971.0 782.6L1981.4 800.7L1991.7 816.2L2004.6 820.1L2014.9 826.5L2025.2 836.8L2035.6 845.9L2045.9 845.9L2058.8 844.6L2069.1 854.9L2079.5 867.8L2089.8 885.9L2097.5 901.4L2105.3 924.6L2113.0 947.9L2120.8 960.8L2128.5 958.2L2138.9 945.3L2149.2 927.2L2159.5 904.0L2169.8 875.6L2182.7 854.9L2195.7 839.4L2208.6 816.2L2221.5 798.1L2234.4 774.9L2244.7 754.2L2252.5 747.8L2260.2 746.5L2268.0 733.6L2275.7 725.8L2283.4 728.4L2291.2 736.1L2298.4 736.1" stroke="#0808ff"/>
</g>
</g>
</svg></body></html>
